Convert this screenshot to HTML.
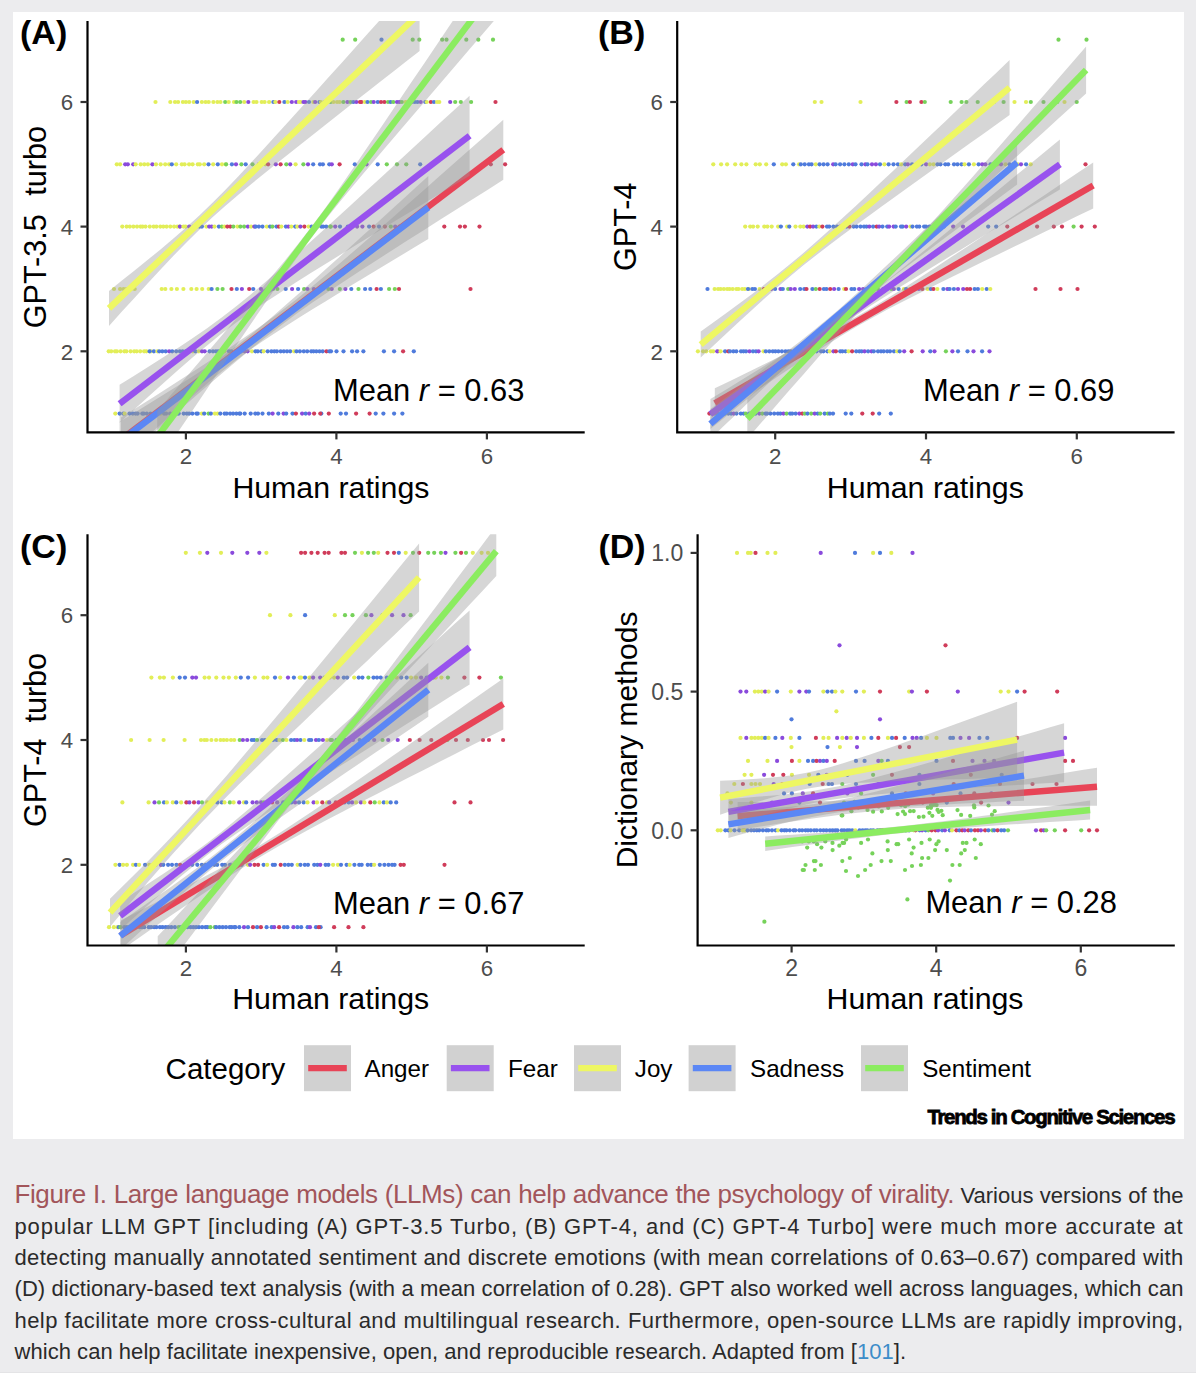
<!DOCTYPE html>
<html><head><meta charset="utf-8"><title>Figure I</title>
<style>
html,body{margin:0;padding:0;}
body{width:1196px;height:1378px;background:#ECECEE;position:relative;overflow:hidden;font-family:"Liberation Sans", Arial, Helvetica, sans-serif;}
#fig{position:absolute;left:13px;top:12px;width:1171px;height:1127px;background:#fff;}
#btm{position:absolute;left:0;top:1372px;width:1196px;height:6px;background:#fff;border-top:0.5px solid #E4E4E6;}
svg{position:absolute;left:0;top:0;}
.tk{font-size:23px;fill:#4D4D4D;}
.ti{font-size:30.6px;fill:#000;white-space:pre;}
.ti.d{font-size:30.0px;}
.tx{font-size:30.3px;fill:#000;}
.lb{font-size:34px;font-weight:bold;fill:#000;}
.mr{font-size:30.9px;fill:#000;}
.lt{font-size:29.5px;fill:#000;}
.le{font-size:24.2px;fill:#000;}
.tcs{font-size:20.5px;font-weight:bold;fill:#000;stroke:#000;stroke-width:0.8px;letter-spacing:-1.36px;}
#cap{position:absolute;left:14.5px;top:0;width:1169px;color:#2A2A2A;}
.ln{position:absolute;left:0;width:1169px;white-space:nowrap;text-align:justify;text-align-last:justify;font-size:22px;line-height:31.4px;}
.ln.last{text-align-last:left;}
.ttl{color:#A2555A;font-size:26px;letter-spacing:-0.4px;}
.ref{color:#3D8DC9;}
</style></head><body>
<div id="fig"></div>
<div id="btm"></div>
<svg width="1196" height="1378" viewBox="0 0 1196 1378" font-family='Liberation Sans, Arial, sans-serif'>
<clipPath id="clipA"><rect x="87.5" y="21.1" width="497.2" height="411.3"/></clipPath>
<g clip-path="url(#clipA)">
<circle cx="342.7" cy="39.7" r="2.10" fill="#76D25A"/>
<circle cx="355.2" cy="39.7" r="2.10" fill="#76D25A"/>
<circle cx="381.5" cy="39.7" r="2.10" fill="#4F7BDC"/>
<circle cx="412.7" cy="39.7" r="2.10" fill="#76D25A"/>
<circle cx="419.3" cy="39.7" r="2.10" fill="#76D25A"/>
<circle cx="442.2" cy="39.7" r="2.10" fill="#76D25A"/>
<circle cx="446.5" cy="39.7" r="2.10" fill="#76D25A"/>
<circle cx="466.3" cy="39.7" r="2.10" fill="#76D25A"/>
<circle cx="478.3" cy="39.7" r="2.10" fill="#76D25A"/>
<circle cx="493.0" cy="39.7" r="2.10" fill="#76D25A"/>
<circle cx="155.5" cy="102.0" r="2.10" fill="#E2EE58"/>
<circle cx="170.3" cy="102.0" r="2.10" fill="#E2EE58"/>
<circle cx="175.0" cy="102.0" r="2.10" fill="#E2EE58"/>
<circle cx="178.1" cy="102.0" r="2.10" fill="#E2EE58"/>
<circle cx="182.9" cy="102.0" r="2.10" fill="#E2EE58"/>
<circle cx="185.9" cy="102.0" r="2.10" fill="#E2EE58"/>
<circle cx="189.2" cy="102.0" r="2.10" fill="#E2EE58"/>
<circle cx="193.7" cy="102.0" r="2.10" fill="#E2EE58"/>
<circle cx="197.1" cy="102.0" r="2.10" fill="#4F7BDC"/>
<circle cx="201.9" cy="102.0" r="2.10" fill="#E2EE58"/>
<circle cx="205.6" cy="102.0" r="2.10" fill="#E2EE58"/>
<circle cx="208.7" cy="102.0" r="2.10" fill="#E2EE58"/>
<circle cx="213.4" cy="102.0" r="2.10" fill="#E2EE58"/>
<circle cx="217.4" cy="102.0" r="2.10" fill="#E2EE58"/>
<circle cx="220.5" cy="102.0" r="2.10" fill="#E2EE58"/>
<circle cx="225.2" cy="102.0" r="2.10" fill="#76D25A"/>
<circle cx="228.7" cy="102.0" r="2.10" fill="#E2EE58"/>
<circle cx="234.0" cy="102.0" r="2.10" fill="#E2EE58"/>
<circle cx="236.5" cy="102.0" r="2.10" fill="#76D25A"/>
<circle cx="240.2" cy="102.0" r="2.10" fill="#76D25A"/>
<circle cx="244.2" cy="102.0" r="2.10" fill="#E2EE58"/>
<circle cx="248.3" cy="102.0" r="2.10" fill="#8A4ADC"/>
<circle cx="253.6" cy="102.0" r="2.10" fill="#E2EE58"/>
<circle cx="256.5" cy="102.0" r="2.10" fill="#E2EE58"/>
<circle cx="261.7" cy="102.0" r="2.10" fill="#E2EE58"/>
<circle cx="264.6" cy="102.0" r="2.10" fill="#E2EE58"/>
<circle cx="269.1" cy="102.0" r="2.10" fill="#E2EE58"/>
<circle cx="273.4" cy="102.0" r="2.10" fill="#4F7BDC"/>
<circle cx="275.3" cy="102.0" r="2.10" fill="#E2EE58"/>
<circle cx="279.3" cy="102.0" r="2.10" fill="#D03C5A"/>
<circle cx="284.4" cy="102.0" r="2.10" fill="#4F7BDC"/>
<circle cx="287.7" cy="102.0" r="2.10" fill="#E2EE58"/>
<circle cx="291.8" cy="102.0" r="2.10" fill="#8A4ADC"/>
<circle cx="296.2" cy="102.0" r="2.10" fill="#8A4ADC"/>
<circle cx="299.0" cy="102.0" r="2.10" fill="#E2EE58"/>
<circle cx="300.8" cy="102.0" r="2.10" fill="#E2EE58"/>
<circle cx="303.5" cy="102.0" r="2.10" fill="#8A4ADC"/>
<circle cx="305.4" cy="102.0" r="2.10" fill="#8A4ADC"/>
<circle cx="309.0" cy="102.0" r="2.10" fill="#4F7BDC"/>
<circle cx="313.4" cy="102.0" r="2.10" fill="#E2EE58"/>
<circle cx="315.2" cy="102.0" r="2.10" fill="#8A4ADC"/>
<circle cx="319.4" cy="102.0" r="2.10" fill="#4F7BDC"/>
<circle cx="320.9" cy="102.0" r="2.10" fill="#E2EE58"/>
<circle cx="324.6" cy="102.0" r="2.10" fill="#4F7BDC"/>
<circle cx="327.3" cy="102.0" r="2.10" fill="#4F7BDC"/>
<circle cx="330.6" cy="102.0" r="2.10" fill="#76D25A"/>
<circle cx="333.5" cy="102.0" r="2.10" fill="#E2EE58"/>
<circle cx="337.1" cy="102.0" r="2.10" fill="#E2EE58"/>
<circle cx="339.7" cy="102.0" r="2.10" fill="#E2EE58"/>
<circle cx="343.4" cy="102.0" r="2.10" fill="#76D25A"/>
<circle cx="347.4" cy="102.0" r="2.10" fill="#8A4ADC"/>
<circle cx="350.5" cy="102.0" r="2.10" fill="#76D25A"/>
<circle cx="353.3" cy="102.0" r="2.10" fill="#4F7BDC"/>
<circle cx="356.3" cy="102.0" r="2.10" fill="#8A4ADC"/>
<circle cx="360.0" cy="102.0" r="2.10" fill="#D03C5A"/>
<circle cx="361.4" cy="102.0" r="2.10" fill="#D03C5A"/>
<circle cx="364.8" cy="102.0" r="2.10" fill="#E2EE58"/>
<circle cx="367.5" cy="102.0" r="2.10" fill="#4F7BDC"/>
<circle cx="371.0" cy="102.0" r="2.10" fill="#76D25A"/>
<circle cx="373.7" cy="102.0" r="2.10" fill="#8A4ADC"/>
<circle cx="377.8" cy="102.0" r="2.10" fill="#4F7BDC"/>
<circle cx="381.0" cy="102.0" r="2.10" fill="#D03C5A"/>
<circle cx="384.4" cy="102.0" r="2.10" fill="#D03C5A"/>
<circle cx="388.0" cy="102.0" r="2.10" fill="#76D25A"/>
<circle cx="390.6" cy="102.0" r="2.10" fill="#4F7BDC"/>
<circle cx="393.3" cy="102.0" r="2.10" fill="#76D25A"/>
<circle cx="397.0" cy="102.0" r="2.10" fill="#8A4ADC"/>
<circle cx="399.4" cy="102.0" r="2.10" fill="#8A4ADC"/>
<circle cx="401.9" cy="102.0" r="2.10" fill="#76D25A"/>
<circle cx="405.6" cy="102.0" r="2.10" fill="#E2EE58"/>
<circle cx="408.1" cy="102.0" r="2.10" fill="#E2EE58"/>
<circle cx="411.9" cy="102.0" r="2.10" fill="#8A4ADC"/>
<circle cx="414.8" cy="102.0" r="2.10" fill="#4F7BDC"/>
<circle cx="417.5" cy="102.0" r="2.10" fill="#4F7BDC"/>
<circle cx="420.7" cy="102.0" r="2.10" fill="#8A4ADC"/>
<circle cx="425.3" cy="102.0" r="2.10" fill="#4F7BDC"/>
<circle cx="426.7" cy="102.0" r="2.10" fill="#E2EE58"/>
<circle cx="430.9" cy="102.0" r="2.10" fill="#D03C5A"/>
<circle cx="434.0" cy="102.0" r="2.10" fill="#4F7BDC"/>
<circle cx="437.1" cy="102.0" r="2.10" fill="#E2EE58"/>
<circle cx="439.3" cy="102.0" r="2.10" fill="#E2EE58"/>
<circle cx="450.2" cy="102.0" r="2.10" fill="#8A4ADC"/>
<circle cx="455.2" cy="102.0" r="2.10" fill="#76D25A"/>
<circle cx="460.8" cy="102.0" r="2.10" fill="#76D25A"/>
<circle cx="471.1" cy="102.0" r="2.10" fill="#76D25A"/>
<circle cx="495.5" cy="102.0" r="2.10" fill="#D03C5A"/>
<circle cx="116.8" cy="164.3" r="2.10" fill="#E2EE58"/>
<circle cx="120.1" cy="164.3" r="2.10" fill="#E2EE58"/>
<circle cx="125.2" cy="164.3" r="2.10" fill="#8A4ADC"/>
<circle cx="127.8" cy="164.3" r="2.10" fill="#8A4ADC"/>
<circle cx="133.2" cy="164.3" r="2.10" fill="#8A4ADC"/>
<circle cx="135.7" cy="164.3" r="2.10" fill="#E2EE58"/>
<circle cx="140.7" cy="164.3" r="2.10" fill="#E2EE58"/>
<circle cx="144.3" cy="164.3" r="2.10" fill="#E2EE58"/>
<circle cx="147.9" cy="164.3" r="2.10" fill="#E2EE58"/>
<circle cx="152.4" cy="164.3" r="2.10" fill="#8A4ADC"/>
<circle cx="156.0" cy="164.3" r="2.10" fill="#E2EE58"/>
<circle cx="160.7" cy="164.3" r="2.10" fill="#E2EE58"/>
<circle cx="165.2" cy="164.3" r="2.10" fill="#E2EE58"/>
<circle cx="169.1" cy="164.3" r="2.10" fill="#E2EE58"/>
<circle cx="171.8" cy="164.3" r="2.10" fill="#4F7BDC"/>
<circle cx="176.2" cy="164.3" r="2.10" fill="#E2EE58"/>
<circle cx="181.8" cy="164.3" r="2.10" fill="#E2EE58"/>
<circle cx="184.6" cy="164.3" r="2.10" fill="#E2EE58"/>
<circle cx="189.1" cy="164.3" r="2.10" fill="#E2EE58"/>
<circle cx="192.6" cy="164.3" r="2.10" fill="#E2EE58"/>
<circle cx="197.8" cy="164.3" r="2.10" fill="#E2EE58"/>
<circle cx="199.8" cy="164.3" r="2.10" fill="#E2EE58"/>
<circle cx="204.2" cy="164.3" r="2.10" fill="#E2EE58"/>
<circle cx="208.5" cy="164.3" r="2.10" fill="#4F7BDC"/>
<circle cx="213.2" cy="164.3" r="2.10" fill="#E2EE58"/>
<circle cx="217.8" cy="164.3" r="2.10" fill="#4F7BDC"/>
<circle cx="222.0" cy="164.3" r="2.10" fill="#E2EE58"/>
<circle cx="225.7" cy="164.3" r="2.10" fill="#E2EE58"/>
<circle cx="226.1" cy="164.3" r="2.10" fill="#76D25A"/>
<circle cx="231.9" cy="164.3" r="2.10" fill="#4F7BDC"/>
<circle cx="236.0" cy="164.3" r="2.10" fill="#8A4ADC"/>
<circle cx="241.4" cy="164.3" r="2.10" fill="#76D25A"/>
<circle cx="245.7" cy="164.3" r="2.10" fill="#4F7BDC"/>
<circle cx="252.5" cy="164.3" r="2.10" fill="#76D25A"/>
<circle cx="258.9" cy="164.3" r="2.10" fill="#8A4ADC"/>
<circle cx="265.3" cy="164.3" r="2.10" fill="#E2EE58"/>
<circle cx="268.1" cy="164.3" r="2.10" fill="#D03C5A"/>
<circle cx="275.8" cy="164.3" r="2.10" fill="#8A4ADC"/>
<circle cx="280.6" cy="164.3" r="2.10" fill="#D03C5A"/>
<circle cx="286.3" cy="164.3" r="2.10" fill="#76D25A"/>
<circle cx="290.2" cy="164.3" r="2.10" fill="#8A4ADC"/>
<circle cx="295.6" cy="164.3" r="2.10" fill="#E2EE58"/>
<circle cx="303.4" cy="164.3" r="2.10" fill="#76D25A"/>
<circle cx="308.0" cy="164.3" r="2.10" fill="#8A4ADC"/>
<circle cx="313.2" cy="164.3" r="2.10" fill="#4F7BDC"/>
<circle cx="320.0" cy="164.3" r="2.10" fill="#4F7BDC"/>
<circle cx="322.9" cy="164.3" r="2.10" fill="#4F7BDC"/>
<circle cx="329.3" cy="164.3" r="2.10" fill="#4F7BDC"/>
<circle cx="331.8" cy="164.3" r="2.10" fill="#8A4ADC"/>
<circle cx="339.6" cy="164.3" r="2.10" fill="#D03C5A"/>
<circle cx="354.8" cy="164.3" r="2.10" fill="#4F7BDC"/>
<circle cx="366.5" cy="164.3" r="2.10" fill="#8A4ADC"/>
<circle cx="377.7" cy="164.3" r="2.10" fill="#4F7BDC"/>
<circle cx="386.8" cy="164.3" r="2.10" fill="#76D25A"/>
<circle cx="397.0" cy="164.3" r="2.10" fill="#76D25A"/>
<circle cx="406.3" cy="164.3" r="2.10" fill="#76D25A"/>
<circle cx="420.2" cy="164.3" r="2.10" fill="#4F7BDC"/>
<circle cx="490.8" cy="164.3" r="2.10" fill="#D03C5A"/>
<circle cx="505.1" cy="164.3" r="2.10" fill="#D03C5A"/>
<circle cx="122.3" cy="226.6" r="2.10" fill="#E2EE58"/>
<circle cx="126.6" cy="226.6" r="2.10" fill="#E2EE58"/>
<circle cx="129.8" cy="226.6" r="2.10" fill="#E2EE58"/>
<circle cx="133.4" cy="226.6" r="2.10" fill="#E2EE58"/>
<circle cx="137.0" cy="226.6" r="2.10" fill="#E2EE58"/>
<circle cx="140.5" cy="226.6" r="2.10" fill="#E2EE58"/>
<circle cx="142.6" cy="226.6" r="2.10" fill="#E2EE58"/>
<circle cx="145.5" cy="226.6" r="2.10" fill="#E2EE58"/>
<circle cx="149.8" cy="226.6" r="2.10" fill="#E2EE58"/>
<circle cx="153.7" cy="226.6" r="2.10" fill="#E2EE58"/>
<circle cx="156.4" cy="226.6" r="2.10" fill="#E2EE58"/>
<circle cx="160.3" cy="226.6" r="2.10" fill="#E2EE58"/>
<circle cx="163.3" cy="226.6" r="2.10" fill="#E2EE58"/>
<circle cx="166.6" cy="226.6" r="2.10" fill="#E2EE58"/>
<circle cx="170.3" cy="226.6" r="2.10" fill="#E2EE58"/>
<circle cx="174.1" cy="226.6" r="2.10" fill="#E2EE58"/>
<circle cx="177.3" cy="226.6" r="2.10" fill="#E2EE58"/>
<circle cx="179.8" cy="226.6" r="2.10" fill="#E2EE58"/>
<circle cx="179.9" cy="226.6" r="2.10" fill="#8A4ADC"/>
<circle cx="183.5" cy="226.6" r="2.10" fill="#E2EE58"/>
<circle cx="185.6" cy="226.6" r="2.10" fill="#E2EE58"/>
<circle cx="189.2" cy="226.6" r="2.10" fill="#8A4ADC"/>
<circle cx="193.5" cy="226.6" r="2.10" fill="#4F7BDC"/>
<circle cx="196.8" cy="226.6" r="2.10" fill="#E2EE58"/>
<circle cx="199.5" cy="226.6" r="2.10" fill="#4F7BDC"/>
<circle cx="201.9" cy="226.6" r="2.10" fill="#4F7BDC"/>
<circle cx="206.4" cy="226.6" r="2.10" fill="#E2EE58"/>
<circle cx="209.2" cy="226.6" r="2.10" fill="#8A4ADC"/>
<circle cx="211.7" cy="226.6" r="2.10" fill="#8A4ADC"/>
<circle cx="214.5" cy="226.6" r="2.10" fill="#E2EE58"/>
<circle cx="218.9" cy="226.6" r="2.10" fill="#4F7BDC"/>
<circle cx="221.9" cy="226.6" r="2.10" fill="#76D25A"/>
<circle cx="224.5" cy="226.6" r="2.10" fill="#E2EE58"/>
<circle cx="227.3" cy="226.6" r="2.10" fill="#D03C5A"/>
<circle cx="230.3" cy="226.6" r="2.10" fill="#D03C5A"/>
<circle cx="233.3" cy="226.6" r="2.10" fill="#76D25A"/>
<circle cx="237.4" cy="226.6" r="2.10" fill="#E2EE58"/>
<circle cx="240.4" cy="226.6" r="2.10" fill="#76D25A"/>
<circle cx="244.1" cy="226.6" r="2.10" fill="#76D25A"/>
<circle cx="247.9" cy="226.6" r="2.10" fill="#8A4ADC"/>
<circle cx="251.1" cy="226.6" r="2.10" fill="#E2EE58"/>
<circle cx="254.3" cy="226.6" r="2.10" fill="#8A4ADC"/>
<circle cx="255.8" cy="226.6" r="2.10" fill="#4F7BDC"/>
<circle cx="258.9" cy="226.6" r="2.10" fill="#4F7BDC"/>
<circle cx="262.5" cy="226.6" r="2.10" fill="#4F7BDC"/>
<circle cx="266.8" cy="226.6" r="2.10" fill="#E2EE58"/>
<circle cx="270.0" cy="226.6" r="2.10" fill="#4F7BDC"/>
<circle cx="272.4" cy="226.6" r="2.10" fill="#76D25A"/>
<circle cx="276.5" cy="226.6" r="2.10" fill="#4F7BDC"/>
<circle cx="278.9" cy="226.6" r="2.10" fill="#D03C5A"/>
<circle cx="281.3" cy="226.6" r="2.10" fill="#E2EE58"/>
<circle cx="285.9" cy="226.6" r="2.10" fill="#4F7BDC"/>
<circle cx="288.4" cy="226.6" r="2.10" fill="#8A4ADC"/>
<circle cx="291.3" cy="226.6" r="2.10" fill="#E2EE58"/>
<circle cx="295.2" cy="226.6" r="2.10" fill="#4F7BDC"/>
<circle cx="297.3" cy="226.6" r="2.10" fill="#E2EE58"/>
<circle cx="300.4" cy="226.6" r="2.10" fill="#8A4ADC"/>
<circle cx="304.4" cy="226.6" r="2.10" fill="#D03C5A"/>
<circle cx="308.6" cy="226.6" r="2.10" fill="#E2EE58"/>
<circle cx="311.7" cy="226.6" r="2.10" fill="#4F7BDC"/>
<circle cx="314.3" cy="226.6" r="2.10" fill="#E2EE58"/>
<circle cx="317.3" cy="226.6" r="2.10" fill="#E2EE58"/>
<circle cx="321.3" cy="226.6" r="2.10" fill="#4F7BDC"/>
<circle cx="323.2" cy="226.6" r="2.10" fill="#4F7BDC"/>
<circle cx="326.2" cy="226.6" r="2.10" fill="#4F7BDC"/>
<circle cx="330.2" cy="226.6" r="2.10" fill="#76D25A"/>
<circle cx="330.8" cy="226.6" r="2.10" fill="#76D25A"/>
<circle cx="335.2" cy="226.6" r="2.10" fill="#8A4ADC"/>
<circle cx="340.0" cy="226.6" r="2.10" fill="#4F7BDC"/>
<circle cx="347.8" cy="226.6" r="2.10" fill="#4F7BDC"/>
<circle cx="350.0" cy="226.6" r="2.10" fill="#4F7BDC"/>
<circle cx="357.1" cy="226.6" r="2.10" fill="#8A4ADC"/>
<circle cx="362.4" cy="226.6" r="2.10" fill="#8A4ADC"/>
<circle cx="369.1" cy="226.6" r="2.10" fill="#4F7BDC"/>
<circle cx="373.6" cy="226.6" r="2.10" fill="#D03C5A"/>
<circle cx="379.0" cy="226.6" r="2.10" fill="#4F7BDC"/>
<circle cx="384.9" cy="226.6" r="2.10" fill="#D03C5A"/>
<circle cx="390.8" cy="226.6" r="2.10" fill="#76D25A"/>
<circle cx="395.2" cy="226.6" r="2.10" fill="#8A4ADC"/>
<circle cx="399.5" cy="226.6" r="2.10" fill="#8A4ADC"/>
<circle cx="444.3" cy="226.6" r="2.10" fill="#D03C5A"/>
<circle cx="460.0" cy="226.6" r="2.10" fill="#D03C5A"/>
<circle cx="464.9" cy="226.6" r="2.10" fill="#D03C5A"/>
<circle cx="479.5" cy="226.6" r="2.10" fill="#D03C5A"/>
<circle cx="114.0" cy="289.0" r="2.10" fill="#E2EE58"/>
<circle cx="120.1" cy="289.0" r="2.10" fill="#E2EE58"/>
<circle cx="123.6" cy="289.0" r="2.10" fill="#E2EE58"/>
<circle cx="126.5" cy="289.0" r="2.10" fill="#E2EE58"/>
<circle cx="130.9" cy="289.0" r="2.10" fill="#E2EE58"/>
<circle cx="134.7" cy="289.0" r="2.10" fill="#E2EE58"/>
<circle cx="161.7" cy="289.0" r="2.10" fill="#E2EE58"/>
<circle cx="165.3" cy="289.0" r="2.10" fill="#E2EE58"/>
<circle cx="171.4" cy="289.0" r="2.10" fill="#E2EE58"/>
<circle cx="176.9" cy="289.0" r="2.10" fill="#E2EE58"/>
<circle cx="183.4" cy="289.0" r="2.10" fill="#E2EE58"/>
<circle cx="191.3" cy="289.0" r="2.10" fill="#E2EE58"/>
<circle cx="196.6" cy="289.0" r="2.10" fill="#E2EE58"/>
<circle cx="202.2" cy="289.0" r="2.10" fill="#E2EE58"/>
<circle cx="208.7" cy="289.0" r="2.10" fill="#E2EE58"/>
<circle cx="211.6" cy="289.0" r="2.10" fill="#4F7BDC"/>
<circle cx="217.4" cy="289.0" r="2.10" fill="#76D25A"/>
<circle cx="222.6" cy="289.0" r="2.10" fill="#76D25A"/>
<circle cx="231.5" cy="289.0" r="2.10" fill="#D03C5A"/>
<circle cx="236.8" cy="289.0" r="2.10" fill="#4F7BDC"/>
<circle cx="241.9" cy="289.0" r="2.10" fill="#8A4ADC"/>
<circle cx="249.2" cy="289.0" r="2.10" fill="#D03C5A"/>
<circle cx="253.2" cy="289.0" r="2.10" fill="#4F7BDC"/>
<circle cx="261.0" cy="289.0" r="2.10" fill="#8A4ADC"/>
<circle cx="267.8" cy="289.0" r="2.10" fill="#76D25A"/>
<circle cx="273.1" cy="289.0" r="2.10" fill="#76D25A"/>
<circle cx="277.4" cy="289.0" r="2.10" fill="#76D25A"/>
<circle cx="285.7" cy="289.0" r="2.10" fill="#4F7BDC"/>
<circle cx="292.1" cy="289.0" r="2.10" fill="#8A4ADC"/>
<circle cx="298.1" cy="289.0" r="2.10" fill="#4F7BDC"/>
<circle cx="304.1" cy="289.0" r="2.10" fill="#76D25A"/>
<circle cx="307.5" cy="289.0" r="2.10" fill="#8A4ADC"/>
<circle cx="313.8" cy="289.0" r="2.10" fill="#8A4ADC"/>
<circle cx="322.8" cy="289.0" r="2.10" fill="#E2EE58"/>
<circle cx="328.4" cy="289.0" r="2.10" fill="#76D25A"/>
<circle cx="331.7" cy="289.0" r="2.10" fill="#8A4ADC"/>
<circle cx="339.8" cy="289.0" r="2.10" fill="#76D25A"/>
<circle cx="345.4" cy="289.0" r="2.10" fill="#8A4ADC"/>
<circle cx="351.3" cy="289.0" r="2.10" fill="#4F7BDC"/>
<circle cx="358.5" cy="289.0" r="2.10" fill="#76D25A"/>
<circle cx="365.1" cy="289.0" r="2.10" fill="#4F7BDC"/>
<circle cx="370.3" cy="289.0" r="2.10" fill="#4F7BDC"/>
<circle cx="376.6" cy="289.0" r="2.10" fill="#D03C5A"/>
<circle cx="380.9" cy="289.0" r="2.10" fill="#4F7BDC"/>
<circle cx="389.1" cy="289.0" r="2.10" fill="#76D25A"/>
<circle cx="394.8" cy="289.0" r="2.10" fill="#76D25A"/>
<circle cx="399.0" cy="289.0" r="2.10" fill="#D03C5A"/>
<circle cx="470.5" cy="289.0" r="2.10" fill="#D03C5A"/>
<circle cx="108.7" cy="351.3" r="2.10" fill="#E2EE58"/>
<circle cx="111.2" cy="351.3" r="2.10" fill="#E2EE58"/>
<circle cx="115.0" cy="351.3" r="2.10" fill="#E2EE58"/>
<circle cx="116.9" cy="351.3" r="2.10" fill="#E2EE58"/>
<circle cx="120.6" cy="351.3" r="2.10" fill="#E2EE58"/>
<circle cx="124.4" cy="351.3" r="2.10" fill="#E2EE58"/>
<circle cx="126.4" cy="351.3" r="2.10" fill="#E2EE58"/>
<circle cx="130.6" cy="351.3" r="2.10" fill="#E2EE58"/>
<circle cx="134.2" cy="351.3" r="2.10" fill="#E2EE58"/>
<circle cx="136.7" cy="351.3" r="2.10" fill="#E2EE58"/>
<circle cx="140.2" cy="351.3" r="2.10" fill="#E2EE58"/>
<circle cx="144.1" cy="351.3" r="2.10" fill="#E2EE58"/>
<circle cx="146.4" cy="351.3" r="2.10" fill="#E2EE58"/>
<circle cx="150.8" cy="351.3" r="2.10" fill="#E2EE58"/>
<circle cx="149.6" cy="351.3" r="2.10" fill="#4F7BDC"/>
<circle cx="153.9" cy="351.3" r="2.10" fill="#4F7BDC"/>
<circle cx="157.5" cy="351.3" r="2.10" fill="#E2EE58"/>
<circle cx="159.2" cy="351.3" r="2.10" fill="#4F7BDC"/>
<circle cx="162.3" cy="351.3" r="2.10" fill="#4F7BDC"/>
<circle cx="165.7" cy="351.3" r="2.10" fill="#4F7BDC"/>
<circle cx="169.2" cy="351.3" r="2.10" fill="#8A4ADC"/>
<circle cx="172.2" cy="351.3" r="2.10" fill="#4F7BDC"/>
<circle cx="176.2" cy="351.3" r="2.10" fill="#4F7BDC"/>
<circle cx="179.9" cy="351.3" r="2.10" fill="#4F7BDC"/>
<circle cx="182.7" cy="351.3" r="2.10" fill="#4F7BDC"/>
<circle cx="185.8" cy="351.3" r="2.10" fill="#4F7BDC"/>
<circle cx="188.3" cy="351.3" r="2.10" fill="#4F7BDC"/>
<circle cx="192.9" cy="351.3" r="2.10" fill="#E2EE58"/>
<circle cx="195.4" cy="351.3" r="2.10" fill="#4F7BDC"/>
<circle cx="198.9" cy="351.3" r="2.10" fill="#E2EE58"/>
<circle cx="202.0" cy="351.3" r="2.10" fill="#8A4ADC"/>
<circle cx="204.7" cy="351.3" r="2.10" fill="#8A4ADC"/>
<circle cx="209.6" cy="351.3" r="2.10" fill="#4F7BDC"/>
<circle cx="213.0" cy="351.3" r="2.10" fill="#4F7BDC"/>
<circle cx="215.9" cy="351.3" r="2.10" fill="#4F7BDC"/>
<circle cx="218.2" cy="351.3" r="2.10" fill="#4F7BDC"/>
<circle cx="221.8" cy="351.3" r="2.10" fill="#D03C5A"/>
<circle cx="224.4" cy="351.3" r="2.10" fill="#E2EE58"/>
<circle cx="229.0" cy="351.3" r="2.10" fill="#4F7BDC"/>
<circle cx="231.4" cy="351.3" r="2.10" fill="#4F7BDC"/>
<circle cx="235.7" cy="351.3" r="2.10" fill="#4F7BDC"/>
<circle cx="238.6" cy="351.3" r="2.10" fill="#4F7BDC"/>
<circle cx="241.1" cy="351.3" r="2.10" fill="#4F7BDC"/>
<circle cx="244.8" cy="351.3" r="2.10" fill="#8A4ADC"/>
<circle cx="247.6" cy="351.3" r="2.10" fill="#8A4ADC"/>
<circle cx="252.0" cy="351.3" r="2.10" fill="#E2EE58"/>
<circle cx="255.5" cy="351.3" r="2.10" fill="#4F7BDC"/>
<circle cx="257.8" cy="351.3" r="2.10" fill="#4F7BDC"/>
<circle cx="261.4" cy="351.3" r="2.10" fill="#4F7BDC"/>
<circle cx="263.7" cy="351.3" r="2.10" fill="#E2EE58"/>
<circle cx="267.7" cy="351.3" r="2.10" fill="#4F7BDC"/>
<circle cx="271.4" cy="351.3" r="2.10" fill="#4F7BDC"/>
<circle cx="274.3" cy="351.3" r="2.10" fill="#4F7BDC"/>
<circle cx="276.9" cy="351.3" r="2.10" fill="#4F7BDC"/>
<circle cx="280.7" cy="351.3" r="2.10" fill="#4F7BDC"/>
<circle cx="283.8" cy="351.3" r="2.10" fill="#4F7BDC"/>
<circle cx="287.0" cy="351.3" r="2.10" fill="#4F7BDC"/>
<circle cx="290.2" cy="351.3" r="2.10" fill="#4F7BDC"/>
<circle cx="294.1" cy="351.3" r="2.10" fill="#E2EE58"/>
<circle cx="296.5" cy="351.3" r="2.10" fill="#4F7BDC"/>
<circle cx="299.9" cy="351.3" r="2.10" fill="#4F7BDC"/>
<circle cx="303.8" cy="351.3" r="2.10" fill="#4F7BDC"/>
<circle cx="307.2" cy="351.3" r="2.10" fill="#4F7BDC"/>
<circle cx="311.2" cy="351.3" r="2.10" fill="#4F7BDC"/>
<circle cx="313.5" cy="351.3" r="2.10" fill="#4F7BDC"/>
<circle cx="316.3" cy="351.3" r="2.10" fill="#4F7BDC"/>
<circle cx="319.5" cy="351.3" r="2.10" fill="#4F7BDC"/>
<circle cx="322.7" cy="351.3" r="2.10" fill="#4F7BDC"/>
<circle cx="326.5" cy="351.3" r="2.10" fill="#D03C5A"/>
<circle cx="329.4" cy="351.3" r="2.10" fill="#4F7BDC"/>
<circle cx="331.0" cy="351.3" r="2.10" fill="#4F7BDC"/>
<circle cx="336.5" cy="351.3" r="2.10" fill="#4F7BDC"/>
<circle cx="343.5" cy="351.3" r="2.10" fill="#4F7BDC"/>
<circle cx="352.1" cy="351.3" r="2.10" fill="#4F7BDC"/>
<circle cx="357.1" cy="351.3" r="2.10" fill="#4F7BDC"/>
<circle cx="363.4" cy="351.3" r="2.10" fill="#4F7BDC"/>
<circle cx="383.9" cy="351.3" r="2.10" fill="#4F7BDC"/>
<circle cx="394.1" cy="351.3" r="2.10" fill="#4F7BDC"/>
<circle cx="403.1" cy="351.3" r="2.10" fill="#D03C5A"/>
<circle cx="413.8" cy="351.3" r="2.10" fill="#4F7BDC"/>
<circle cx="115.3" cy="413.6" r="2.10" fill="#E2EE58"/>
<circle cx="119.6" cy="413.6" r="2.10" fill="#4F7BDC"/>
<circle cx="123.3" cy="413.6" r="2.10" fill="#4F7BDC"/>
<circle cx="124.6" cy="413.6" r="2.10" fill="#E2EE58"/>
<circle cx="129.5" cy="413.6" r="2.10" fill="#4F7BDC"/>
<circle cx="132.8" cy="413.6" r="2.10" fill="#4F7BDC"/>
<circle cx="135.6" cy="413.6" r="2.10" fill="#4F7BDC"/>
<circle cx="137.6" cy="413.6" r="2.10" fill="#4F7BDC"/>
<circle cx="142.3" cy="413.6" r="2.10" fill="#4F7BDC"/>
<circle cx="143.8" cy="413.6" r="2.10" fill="#4F7BDC"/>
<circle cx="146.8" cy="413.6" r="2.10" fill="#4F7BDC"/>
<circle cx="150.5" cy="413.6" r="2.10" fill="#4F7BDC"/>
<circle cx="154.4" cy="413.6" r="2.10" fill="#4F7BDC"/>
<circle cx="158.2" cy="413.6" r="2.10" fill="#4F7BDC"/>
<circle cx="160.6" cy="413.6" r="2.10" fill="#E2EE58"/>
<circle cx="164.1" cy="413.6" r="2.10" fill="#4F7BDC"/>
<circle cx="166.1" cy="413.6" r="2.10" fill="#4F7BDC"/>
<circle cx="170.1" cy="413.6" r="2.10" fill="#4F7BDC"/>
<circle cx="173.0" cy="413.6" r="2.10" fill="#4F7BDC"/>
<circle cx="177.0" cy="413.6" r="2.10" fill="#4F7BDC"/>
<circle cx="178.7" cy="413.6" r="2.10" fill="#4F7BDC"/>
<circle cx="183.7" cy="413.6" r="2.10" fill="#4F7BDC"/>
<circle cx="186.8" cy="413.6" r="2.10" fill="#4F7BDC"/>
<circle cx="189.1" cy="413.6" r="2.10" fill="#4F7BDC"/>
<circle cx="192.4" cy="413.6" r="2.10" fill="#4F7BDC"/>
<circle cx="196.4" cy="413.6" r="2.10" fill="#4F7BDC"/>
<circle cx="197.8" cy="413.6" r="2.10" fill="#4F7BDC"/>
<circle cx="201.8" cy="413.6" r="2.10" fill="#E2EE58"/>
<circle cx="204.2" cy="413.6" r="2.10" fill="#4F7BDC"/>
<circle cx="208.5" cy="413.6" r="2.10" fill="#76D25A"/>
<circle cx="210.9" cy="413.6" r="2.10" fill="#4F7BDC"/>
<circle cx="214.9" cy="413.6" r="2.10" fill="#E2EE58"/>
<circle cx="217.5" cy="413.6" r="2.10" fill="#E2EE58"/>
<circle cx="220.3" cy="413.6" r="2.10" fill="#4F7BDC"/>
<circle cx="224.6" cy="413.6" r="2.10" fill="#4F7BDC"/>
<circle cx="226.7" cy="413.6" r="2.10" fill="#4F7BDC"/>
<circle cx="230.1" cy="413.6" r="2.10" fill="#4F7BDC"/>
<circle cx="233.1" cy="413.6" r="2.10" fill="#4F7BDC"/>
<circle cx="236.4" cy="413.6" r="2.10" fill="#4F7BDC"/>
<circle cx="239.3" cy="413.6" r="2.10" fill="#4F7BDC"/>
<circle cx="240.3" cy="413.6" r="2.10" fill="#4F7BDC"/>
<circle cx="244.7" cy="413.6" r="2.10" fill="#4F7BDC"/>
<circle cx="250.7" cy="413.6" r="2.10" fill="#4F7BDC"/>
<circle cx="255.3" cy="413.6" r="2.10" fill="#4F7BDC"/>
<circle cx="258.0" cy="413.6" r="2.10" fill="#4F7BDC"/>
<circle cx="262.5" cy="413.6" r="2.10" fill="#4F7BDC"/>
<circle cx="268.8" cy="413.6" r="2.10" fill="#4F7BDC"/>
<circle cx="272.6" cy="413.6" r="2.10" fill="#8A4ADC"/>
<circle cx="278.3" cy="413.6" r="2.10" fill="#4F7BDC"/>
<circle cx="283.6" cy="413.6" r="2.10" fill="#8A4ADC"/>
<circle cx="286.2" cy="413.6" r="2.10" fill="#4F7BDC"/>
<circle cx="292.5" cy="413.6" r="2.10" fill="#4F7BDC"/>
<circle cx="295.9" cy="413.6" r="2.10" fill="#D03C5A"/>
<circle cx="302.1" cy="413.6" r="2.10" fill="#8A4ADC"/>
<circle cx="305.7" cy="413.6" r="2.10" fill="#4F7BDC"/>
<circle cx="309.2" cy="413.6" r="2.10" fill="#8A4ADC"/>
<circle cx="314.1" cy="413.6" r="2.10" fill="#D03C5A"/>
<circle cx="321.3" cy="413.6" r="2.10" fill="#4F7BDC"/>
<circle cx="320.3" cy="413.6" r="2.10" fill="#D03C5A"/>
<circle cx="328.8" cy="413.6" r="2.10" fill="#D03C5A"/>
<circle cx="340.7" cy="413.6" r="2.10" fill="#4F7BDC"/>
<circle cx="346.0" cy="413.6" r="2.10" fill="#4F7BDC"/>
<circle cx="356.1" cy="413.6" r="2.10" fill="#D03C5A"/>
<circle cx="369.6" cy="413.6" r="2.10" fill="#D03C5A"/>
<circle cx="375.7" cy="413.6" r="2.10" fill="#4F7BDC"/>
<circle cx="383.4" cy="413.6" r="2.10" fill="#4F7BDC"/>
<circle cx="394.1" cy="413.6" r="2.10" fill="#4F7BDC"/>
<circle cx="402.4" cy="413.6" r="2.10" fill="#4F7BDC"/>
<polygon points="121.0,417.6 136.9,407.5 152.9,397.4 168.8,387.2 184.7,377.0 200.6,366.7 216.6,356.3 232.5,345.7 248.4,334.8 264.4,323.6 280.3,311.8 296.2,299.5 312.1,286.6 328.1,273.2 344.0,259.7 359.9,245.9 375.9,232.1 391.8,218.2 407.7,204.2 423.7,190.2 439.6,176.1 455.5,162.1 471.4,148.0 487.4,133.9 503.3,119.8 503.3,179.8 487.4,189.9 471.4,199.9 455.5,210.0 439.6,220.1 423.7,230.2 407.7,240.3 391.8,250.5 375.9,260.7 359.9,271.0 344.0,281.4 328.1,292.0 312.1,302.8 296.2,314.1 280.3,325.9 264.4,338.2 248.4,351.2 232.5,364.5 216.6,378.0 200.6,391.8 184.7,405.6 168.8,419.6 152.9,433.5 136.9,447.6 121.0,461.6" fill="#999999" fill-opacity="0.4"/>
<line x1="121.0" y1="439.6" x2="503.3" y2="149.8" stroke="#E84457" stroke-width="6.4"/>
<polygon points="119.6,384.8 134.2,375.7 148.8,366.6 163.3,357.3 177.9,347.9 192.5,338.2 207.1,328.2 221.7,317.6 236.3,306.3 250.8,294.4 265.4,281.9 280.0,269.2 294.6,256.2 309.2,243.0 323.8,229.8 338.4,216.5 352.9,203.2 367.5,189.8 382.1,176.4 396.7,163.0 411.3,149.5 425.9,136.1 440.4,122.6 455.0,109.2 469.6,95.7 469.6,175.7 455.0,184.6 440.4,193.4 425.9,202.3 411.3,211.2 396.7,220.1 382.1,229.1 367.5,238.0 352.9,247.0 338.4,256.0 323.8,265.0 309.2,274.1 294.6,283.3 280.0,292.7 265.4,302.3 250.8,312.2 236.3,322.6 221.7,333.6 207.1,345.4 192.5,357.6 177.9,370.3 163.3,383.2 148.8,396.3 134.2,409.5 119.6,422.8" fill="#999999" fill-opacity="0.4"/>
<line x1="119.6" y1="403.8" x2="469.6" y2="135.7" stroke="#9852EE" stroke-width="6.4"/>
<polygon points="109.0,290.9 121.9,280.6 134.9,270.2 147.8,259.8 160.8,249.2 173.7,238.3 186.7,227.1 199.6,215.3 212.5,202.8 225.5,189.8 238.4,176.2 251.4,162.3 264.3,148.3 277.2,134.1 290.2,119.8 303.1,105.5 316.1,91.2 329.0,76.8 342.0,62.4 354.9,47.9 367.8,33.5 380.8,19.1 393.7,4.6 406.7,-9.8 419.6,-24.3 419.6,50.9 406.7,61.0 393.7,71.2 380.8,81.3 367.8,91.5 354.9,101.6 342.0,111.8 329.0,122.0 316.1,132.2 303.1,142.4 290.2,152.7 277.2,163.0 264.3,173.4 251.4,184.0 238.4,194.7 225.5,205.7 212.5,217.2 199.6,229.4 186.7,242.2 173.7,255.5 160.8,269.3 147.8,283.2 134.9,297.4 121.9,311.6 109.0,325.9" fill="#999999" fill-opacity="0.4"/>
<line x1="109.0" y1="308.4" x2="419.6" y2="13.3" stroke="#EEF763" stroke-width="6.4"/>
<polygon points="119.6,421.7 132.5,413.9 145.3,406.0 158.2,398.0 171.1,390.0 183.9,381.9 196.8,373.7 209.6,365.1 222.5,356.2 235.4,346.8 248.2,336.8 261.1,326.3 274.0,315.3 286.8,304.1 299.7,292.7 312.5,281.2 325.4,269.6 338.3,258.0 351.1,246.3 364.0,234.6 376.9,222.9 389.7,211.2 402.6,199.4 415.4,187.7 428.3,175.9 428.3,238.9 415.4,246.7 402.6,254.4 389.7,262.2 376.9,270.0 364.0,277.8 351.1,285.6 338.3,293.5 325.4,301.4 312.5,309.3 299.7,317.3 286.8,325.5 274.0,333.8 261.1,342.3 248.2,351.3 235.4,360.8 222.5,371.0 209.6,381.6 196.8,392.6 183.9,403.8 171.1,415.3 158.2,426.8 145.3,438.4 132.5,450.0 119.6,461.7" fill="#999999" fill-opacity="0.4"/>
<line x1="119.6" y1="441.7" x2="428.3" y2="207.4" stroke="#5B87F5" stroke-width="6.4"/>
<polygon points="157.2,410.9 171.3,394.4 185.5,377.9 199.6,361.4 213.7,344.9 227.8,328.4 242.0,311.8 256.1,295.1 270.2,278.2 284.4,261.2 298.5,243.6 312.6,225.2 326.8,205.9 340.9,185.9 355.0,165.4 369.1,144.8 383.3,124.0 397.4,103.1 411.5,82.1 425.7,61.2 439.8,40.2 453.9,19.2 468.0,-1.8 482.2,-22.9 496.3,-43.9 496.3,18.1 482.2,34.6 468.0,51.0 453.9,67.5 439.8,84.0 425.7,100.5 411.5,117.0 397.4,133.5 383.3,150.1 369.1,166.8 355.0,183.6 340.9,200.6 326.8,218.1 312.6,236.2 298.5,255.4 284.4,275.3 270.2,295.7 256.1,316.3 242.0,337.1 227.8,358.0 213.7,378.9 199.6,399.9 185.5,420.9 171.3,441.9 157.2,462.9" fill="#999999" fill-opacity="0.4"/>
<line x1="157.2" y1="436.9" x2="496.3" y2="-12.9" stroke="#8BEC60" stroke-width="6.4"/>
</g>
<clipPath id="clipB"><rect x="677.2" y="21.1" width="497.4" height="411.3"/></clipPath>
<g clip-path="url(#clipB)">
<circle cx="1058.5" cy="39.7" r="2.10" fill="#76D25A"/>
<circle cx="1086.5" cy="39.7" r="2.10" fill="#76D25A"/>
<circle cx="814.8" cy="102.0" r="2.10" fill="#E2EE58"/>
<circle cx="821.5" cy="102.0" r="2.10" fill="#E2EE58"/>
<circle cx="860.5" cy="102.0" r="2.10" fill="#E2EE58"/>
<circle cx="896.4" cy="102.0" r="2.10" fill="#D03C5A"/>
<circle cx="906.6" cy="102.0" r="2.10" fill="#76D25A"/>
<circle cx="909.9" cy="102.0" r="2.10" fill="#D03C5A"/>
<circle cx="921.4" cy="102.0" r="2.10" fill="#D03C5A"/>
<circle cx="924.8" cy="102.0" r="2.10" fill="#76D25A"/>
<circle cx="950.7" cy="102.0" r="2.10" fill="#76D25A"/>
<circle cx="961.6" cy="102.0" r="2.10" fill="#76D25A"/>
<circle cx="966.4" cy="102.0" r="2.10" fill="#76D25A"/>
<circle cx="977.7" cy="102.0" r="2.10" fill="#76D25A"/>
<circle cx="993.9" cy="102.0" r="2.10" fill="#76D25A"/>
<circle cx="1003.6" cy="102.0" r="2.10" fill="#76D25A"/>
<circle cx="1014.5" cy="102.0" r="2.10" fill="#E2EE58"/>
<circle cx="1026.0" cy="102.0" r="2.10" fill="#E2EE58"/>
<circle cx="1030.8" cy="102.0" r="2.10" fill="#76D25A"/>
<circle cx="1043.5" cy="102.0" r="2.10" fill="#76D25A"/>
<circle cx="1057.3" cy="102.0" r="2.10" fill="#76D25A"/>
<circle cx="1064.5" cy="102.0" r="2.10" fill="#E2EE58"/>
<circle cx="1076.7" cy="102.0" r="2.10" fill="#76D25A"/>
<circle cx="713.3" cy="164.3" r="2.10" fill="#E2EE58"/>
<circle cx="721.1" cy="164.3" r="2.10" fill="#E2EE58"/>
<circle cx="727.1" cy="164.3" r="2.10" fill="#E2EE58"/>
<circle cx="735.2" cy="164.3" r="2.10" fill="#E2EE58"/>
<circle cx="741.4" cy="164.3" r="2.10" fill="#E2EE58"/>
<circle cx="746.4" cy="164.3" r="2.10" fill="#E2EE58"/>
<circle cx="755.7" cy="164.3" r="2.10" fill="#E2EE58"/>
<circle cx="759.8" cy="164.3" r="2.10" fill="#E2EE58"/>
<circle cx="766.2" cy="164.3" r="2.10" fill="#E2EE58"/>
<circle cx="773.8" cy="164.3" r="2.10" fill="#4F7BDC"/>
<circle cx="782.2" cy="164.3" r="2.10" fill="#E2EE58"/>
<circle cx="785.9" cy="164.3" r="2.10" fill="#E2EE58"/>
<circle cx="793.3" cy="164.3" r="2.10" fill="#4F7BDC"/>
<circle cx="799.0" cy="164.3" r="2.10" fill="#E2EE58"/>
<circle cx="800.8" cy="164.3" r="2.10" fill="#4F7BDC"/>
<circle cx="804.7" cy="164.3" r="2.10" fill="#4F7BDC"/>
<circle cx="808.9" cy="164.3" r="2.10" fill="#4F7BDC"/>
<circle cx="811.6" cy="164.3" r="2.10" fill="#4F7BDC"/>
<circle cx="815.8" cy="164.3" r="2.10" fill="#E2EE58"/>
<circle cx="819.6" cy="164.3" r="2.10" fill="#4F7BDC"/>
<circle cx="823.6" cy="164.3" r="2.10" fill="#4F7BDC"/>
<circle cx="827.6" cy="164.3" r="2.10" fill="#4F7BDC"/>
<circle cx="833.2" cy="164.3" r="2.10" fill="#8A4ADC"/>
<circle cx="835.6" cy="164.3" r="2.10" fill="#4F7BDC"/>
<circle cx="840.1" cy="164.3" r="2.10" fill="#4F7BDC"/>
<circle cx="844.4" cy="164.3" r="2.10" fill="#4F7BDC"/>
<circle cx="848.8" cy="164.3" r="2.10" fill="#4F7BDC"/>
<circle cx="852.8" cy="164.3" r="2.10" fill="#8A4ADC"/>
<circle cx="855.5" cy="164.3" r="2.10" fill="#4F7BDC"/>
<circle cx="861.5" cy="164.3" r="2.10" fill="#4F7BDC"/>
<circle cx="865.4" cy="164.3" r="2.10" fill="#8A4ADC"/>
<circle cx="867.5" cy="164.3" r="2.10" fill="#4F7BDC"/>
<circle cx="872.0" cy="164.3" r="2.10" fill="#8A4ADC"/>
<circle cx="875.9" cy="164.3" r="2.10" fill="#8A4ADC"/>
<circle cx="880.0" cy="164.3" r="2.10" fill="#4F7BDC"/>
<circle cx="884.4" cy="164.3" r="2.10" fill="#E2EE58"/>
<circle cx="888.6" cy="164.3" r="2.10" fill="#4F7BDC"/>
<circle cx="893.5" cy="164.3" r="2.10" fill="#4F7BDC"/>
<circle cx="897.9" cy="164.3" r="2.10" fill="#4F7BDC"/>
<circle cx="901.2" cy="164.3" r="2.10" fill="#E2EE58"/>
<circle cx="905.2" cy="164.3" r="2.10" fill="#4F7BDC"/>
<circle cx="907.8" cy="164.3" r="2.10" fill="#8A4ADC"/>
<circle cx="912.1" cy="164.3" r="2.10" fill="#4F7BDC"/>
<circle cx="918.2" cy="164.3" r="2.10" fill="#8A4ADC"/>
<circle cx="921.3" cy="164.3" r="2.10" fill="#4F7BDC"/>
<circle cx="926.1" cy="164.3" r="2.10" fill="#8A4ADC"/>
<circle cx="929.9" cy="164.3" r="2.10" fill="#E2EE58"/>
<circle cx="933.6" cy="164.3" r="2.10" fill="#E2EE58"/>
<circle cx="937.5" cy="164.3" r="2.10" fill="#4F7BDC"/>
<circle cx="940.5" cy="164.3" r="2.10" fill="#4F7BDC"/>
<circle cx="945.3" cy="164.3" r="2.10" fill="#4F7BDC"/>
<circle cx="948.2" cy="164.3" r="2.10" fill="#4F7BDC"/>
<circle cx="954.0" cy="164.3" r="2.10" fill="#4F7BDC"/>
<circle cx="957.5" cy="164.3" r="2.10" fill="#4F7BDC"/>
<circle cx="961.5" cy="164.3" r="2.10" fill="#4F7BDC"/>
<circle cx="964.6" cy="164.3" r="2.10" fill="#E2EE58"/>
<circle cx="968.9" cy="164.3" r="2.10" fill="#4F7BDC"/>
<circle cx="973.9" cy="164.3" r="2.10" fill="#E2EE58"/>
<circle cx="978.6" cy="164.3" r="2.10" fill="#4F7BDC"/>
<circle cx="982.2" cy="164.3" r="2.10" fill="#8A4ADC"/>
<circle cx="985.4" cy="164.3" r="2.10" fill="#8A4ADC"/>
<circle cx="990.5" cy="164.3" r="2.10" fill="#4F7BDC"/>
<circle cx="993.4" cy="164.3" r="2.10" fill="#4F7BDC"/>
<circle cx="997.5" cy="164.3" r="2.10" fill="#E2EE58"/>
<circle cx="1001.0" cy="164.3" r="2.10" fill="#8A4ADC"/>
<circle cx="1005.6" cy="164.3" r="2.10" fill="#E2EE58"/>
<circle cx="1009.6" cy="164.3" r="2.10" fill="#4F7BDC"/>
<circle cx="1013.6" cy="164.3" r="2.10" fill="#8A4ADC"/>
<circle cx="1017.8" cy="164.3" r="2.10" fill="#E2EE58"/>
<circle cx="1021.0" cy="164.3" r="2.10" fill="#8A4ADC"/>
<circle cx="1026.1" cy="164.3" r="2.10" fill="#4F7BDC"/>
<circle cx="1030.7" cy="164.3" r="2.10" fill="#E2EE58"/>
<circle cx="1085.5" cy="164.3" r="2.10" fill="#D03C5A"/>
<circle cx="745.2" cy="226.6" r="2.10" fill="#E2EE58"/>
<circle cx="750.2" cy="226.6" r="2.10" fill="#E2EE58"/>
<circle cx="753.1" cy="226.6" r="2.10" fill="#E2EE58"/>
<circle cx="757.7" cy="226.6" r="2.10" fill="#E2EE58"/>
<circle cx="764.3" cy="226.6" r="2.10" fill="#E2EE58"/>
<circle cx="767.4" cy="226.6" r="2.10" fill="#E2EE58"/>
<circle cx="771.7" cy="226.6" r="2.10" fill="#E2EE58"/>
<circle cx="778.1" cy="226.6" r="2.10" fill="#E2EE58"/>
<circle cx="780.9" cy="226.6" r="2.10" fill="#4F7BDC"/>
<circle cx="787.1" cy="226.6" r="2.10" fill="#E2EE58"/>
<circle cx="789.3" cy="226.6" r="2.10" fill="#4F7BDC"/>
<circle cx="795.5" cy="226.6" r="2.10" fill="#E2EE58"/>
<circle cx="800.3" cy="226.6" r="2.10" fill="#E2EE58"/>
<circle cx="803.6" cy="226.6" r="2.10" fill="#E2EE58"/>
<circle cx="807.3" cy="226.6" r="2.10" fill="#8A4ADC"/>
<circle cx="810.1" cy="226.6" r="2.10" fill="#D03C5A"/>
<circle cx="813.1" cy="226.6" r="2.10" fill="#8A4ADC"/>
<circle cx="816.4" cy="226.6" r="2.10" fill="#4F7BDC"/>
<circle cx="819.3" cy="226.6" r="2.10" fill="#E2EE58"/>
<circle cx="822.4" cy="226.6" r="2.10" fill="#D03C5A"/>
<circle cx="827.0" cy="226.6" r="2.10" fill="#4F7BDC"/>
<circle cx="829.2" cy="226.6" r="2.10" fill="#4F7BDC"/>
<circle cx="833.4" cy="226.6" r="2.10" fill="#4F7BDC"/>
<circle cx="837.0" cy="226.6" r="2.10" fill="#4F7BDC"/>
<circle cx="840.2" cy="226.6" r="2.10" fill="#8A4ADC"/>
<circle cx="843.1" cy="226.6" r="2.10" fill="#4F7BDC"/>
<circle cx="846.6" cy="226.6" r="2.10" fill="#4F7BDC"/>
<circle cx="849.4" cy="226.6" r="2.10" fill="#D03C5A"/>
<circle cx="853.6" cy="226.6" r="2.10" fill="#4F7BDC"/>
<circle cx="856.6" cy="226.6" r="2.10" fill="#4F7BDC"/>
<circle cx="860.5" cy="226.6" r="2.10" fill="#4F7BDC"/>
<circle cx="864.0" cy="226.6" r="2.10" fill="#4F7BDC"/>
<circle cx="866.5" cy="226.6" r="2.10" fill="#4F7BDC"/>
<circle cx="869.3" cy="226.6" r="2.10" fill="#8A4ADC"/>
<circle cx="873.1" cy="226.6" r="2.10" fill="#4F7BDC"/>
<circle cx="876.7" cy="226.6" r="2.10" fill="#D03C5A"/>
<circle cx="879.1" cy="226.6" r="2.10" fill="#8A4ADC"/>
<circle cx="882.5" cy="226.6" r="2.10" fill="#4F7BDC"/>
<circle cx="887.2" cy="226.6" r="2.10" fill="#4F7BDC"/>
<circle cx="889.1" cy="226.6" r="2.10" fill="#8A4ADC"/>
<circle cx="893.6" cy="226.6" r="2.10" fill="#8A4ADC"/>
<circle cx="895.7" cy="226.6" r="2.10" fill="#4F7BDC"/>
<circle cx="901.0" cy="226.6" r="2.10" fill="#4F7BDC"/>
<circle cx="902.7" cy="226.6" r="2.10" fill="#4F7BDC"/>
<circle cx="906.2" cy="226.6" r="2.10" fill="#8A4ADC"/>
<circle cx="910.4" cy="226.6" r="2.10" fill="#E2EE58"/>
<circle cx="912.5" cy="226.6" r="2.10" fill="#4F7BDC"/>
<circle cx="916.9" cy="226.6" r="2.10" fill="#4F7BDC"/>
<circle cx="919.3" cy="226.6" r="2.10" fill="#4F7BDC"/>
<circle cx="924.1" cy="226.6" r="2.10" fill="#4F7BDC"/>
<circle cx="926.0" cy="226.6" r="2.10" fill="#4F7BDC"/>
<circle cx="929.4" cy="226.6" r="2.10" fill="#4F7BDC"/>
<circle cx="935.7" cy="226.6" r="2.10" fill="#4F7BDC"/>
<circle cx="943.9" cy="226.6" r="2.10" fill="#4F7BDC"/>
<circle cx="953.2" cy="226.6" r="2.10" fill="#8A4ADC"/>
<circle cx="963.0" cy="226.6" r="2.10" fill="#8A4ADC"/>
<circle cx="988.2" cy="226.6" r="2.10" fill="#4F7BDC"/>
<circle cx="996.2" cy="226.6" r="2.10" fill="#4F7BDC"/>
<circle cx="1007.3" cy="226.6" r="2.10" fill="#D03C5A"/>
<circle cx="1037.1" cy="226.6" r="2.10" fill="#D03C5A"/>
<circle cx="1053.8" cy="226.6" r="2.10" fill="#D03C5A"/>
<circle cx="1062.0" cy="226.6" r="2.10" fill="#D03C5A"/>
<circle cx="1073.6" cy="226.6" r="2.10" fill="#76D25A"/>
<circle cx="1081.6" cy="226.6" r="2.10" fill="#D03C5A"/>
<circle cx="1094.8" cy="226.6" r="2.10" fill="#D03C5A"/>
<circle cx="707.5" cy="289.0" r="2.10" fill="#4F7BDC"/>
<circle cx="714.6" cy="289.0" r="2.10" fill="#E2EE58"/>
<circle cx="718.1" cy="289.0" r="2.10" fill="#E2EE58"/>
<circle cx="720.7" cy="289.0" r="2.10" fill="#E2EE58"/>
<circle cx="723.9" cy="289.0" r="2.10" fill="#E2EE58"/>
<circle cx="727.2" cy="289.0" r="2.10" fill="#E2EE58"/>
<circle cx="729.6" cy="289.0" r="2.10" fill="#E2EE58"/>
<circle cx="732.7" cy="289.0" r="2.10" fill="#E2EE58"/>
<circle cx="736.4" cy="289.0" r="2.10" fill="#E2EE58"/>
<circle cx="738.5" cy="289.0" r="2.10" fill="#E2EE58"/>
<circle cx="742.2" cy="289.0" r="2.10" fill="#E2EE58"/>
<circle cx="744.9" cy="289.0" r="2.10" fill="#E2EE58"/>
<circle cx="748.7" cy="289.0" r="2.10" fill="#E2EE58"/>
<circle cx="748.0" cy="289.0" r="2.10" fill="#4F7BDC"/>
<circle cx="752.3" cy="289.0" r="2.10" fill="#4F7BDC"/>
<circle cx="754.9" cy="289.0" r="2.10" fill="#4F7BDC"/>
<circle cx="759.6" cy="289.0" r="2.10" fill="#E2EE58"/>
<circle cx="763.9" cy="289.0" r="2.10" fill="#D03C5A"/>
<circle cx="767.2" cy="289.0" r="2.10" fill="#4F7BDC"/>
<circle cx="771.3" cy="289.0" r="2.10" fill="#8A4ADC"/>
<circle cx="775.1" cy="289.0" r="2.10" fill="#4F7BDC"/>
<circle cx="780.5" cy="289.0" r="2.10" fill="#8A4ADC"/>
<circle cx="782.8" cy="289.0" r="2.10" fill="#4F7BDC"/>
<circle cx="788.2" cy="289.0" r="2.10" fill="#76D25A"/>
<circle cx="790.7" cy="289.0" r="2.10" fill="#8A4ADC"/>
<circle cx="794.8" cy="289.0" r="2.10" fill="#8A4ADC"/>
<circle cx="800.2" cy="289.0" r="2.10" fill="#4F7BDC"/>
<circle cx="804.3" cy="289.0" r="2.10" fill="#4F7BDC"/>
<circle cx="806.5" cy="289.0" r="2.10" fill="#D03C5A"/>
<circle cx="812.4" cy="289.0" r="2.10" fill="#4F7BDC"/>
<circle cx="815.8" cy="289.0" r="2.10" fill="#76D25A"/>
<circle cx="819.7" cy="289.0" r="2.10" fill="#D03C5A"/>
<circle cx="823.9" cy="289.0" r="2.10" fill="#4F7BDC"/>
<circle cx="826.5" cy="289.0" r="2.10" fill="#4F7BDC"/>
<circle cx="830.2" cy="289.0" r="2.10" fill="#D03C5A"/>
<circle cx="834.1" cy="289.0" r="2.10" fill="#8A4ADC"/>
<circle cx="838.6" cy="289.0" r="2.10" fill="#4F7BDC"/>
<circle cx="844.2" cy="289.0" r="2.10" fill="#E2EE58"/>
<circle cx="846.0" cy="289.0" r="2.10" fill="#D03C5A"/>
<circle cx="851.5" cy="289.0" r="2.10" fill="#4F7BDC"/>
<circle cx="854.3" cy="289.0" r="2.10" fill="#4F7BDC"/>
<circle cx="859.1" cy="289.0" r="2.10" fill="#8A4ADC"/>
<circle cx="863.1" cy="289.0" r="2.10" fill="#8A4ADC"/>
<circle cx="866.8" cy="289.0" r="2.10" fill="#4F7BDC"/>
<circle cx="870.2" cy="289.0" r="2.10" fill="#E2EE58"/>
<circle cx="873.9" cy="289.0" r="2.10" fill="#8A4ADC"/>
<circle cx="877.8" cy="289.0" r="2.10" fill="#76D25A"/>
<circle cx="883.4" cy="289.0" r="2.10" fill="#4F7BDC"/>
<circle cx="886.6" cy="289.0" r="2.10" fill="#4F7BDC"/>
<circle cx="891.4" cy="289.0" r="2.10" fill="#76D25A"/>
<circle cx="893.8" cy="289.0" r="2.10" fill="#8A4ADC"/>
<circle cx="898.6" cy="289.0" r="2.10" fill="#4F7BDC"/>
<circle cx="903.9" cy="289.0" r="2.10" fill="#E2EE58"/>
<circle cx="906.1" cy="289.0" r="2.10" fill="#4F7BDC"/>
<circle cx="909.8" cy="289.0" r="2.10" fill="#E2EE58"/>
<circle cx="915.1" cy="289.0" r="2.10" fill="#E2EE58"/>
<circle cx="918.9" cy="289.0" r="2.10" fill="#8A4ADC"/>
<circle cx="922.4" cy="289.0" r="2.10" fill="#D03C5A"/>
<circle cx="927.6" cy="289.0" r="2.10" fill="#E2EE58"/>
<circle cx="930.8" cy="289.0" r="2.10" fill="#4F7BDC"/>
<circle cx="933.5" cy="289.0" r="2.10" fill="#D03C5A"/>
<circle cx="937.3" cy="289.0" r="2.10" fill="#E2EE58"/>
<circle cx="943.4" cy="289.0" r="2.10" fill="#4F7BDC"/>
<circle cx="947.4" cy="289.0" r="2.10" fill="#8A4ADC"/>
<circle cx="949.6" cy="289.0" r="2.10" fill="#4F7BDC"/>
<circle cx="953.9" cy="289.0" r="2.10" fill="#4F7BDC"/>
<circle cx="958.0" cy="289.0" r="2.10" fill="#8A4ADC"/>
<circle cx="963.2" cy="289.0" r="2.10" fill="#8A4ADC"/>
<circle cx="967.0" cy="289.0" r="2.10" fill="#D03C5A"/>
<circle cx="970.1" cy="289.0" r="2.10" fill="#D03C5A"/>
<circle cx="974.6" cy="289.0" r="2.10" fill="#4F7BDC"/>
<circle cx="977.9" cy="289.0" r="2.10" fill="#4F7BDC"/>
<circle cx="982.2" cy="289.0" r="2.10" fill="#E2EE58"/>
<circle cx="986.7" cy="289.0" r="2.10" fill="#4F7BDC"/>
<circle cx="990.3" cy="289.0" r="2.10" fill="#E2EE58"/>
<circle cx="1035.5" cy="289.0" r="2.10" fill="#D03C5A"/>
<circle cx="1060.5" cy="289.0" r="2.10" fill="#D03C5A"/>
<circle cx="1077.5" cy="289.0" r="2.10" fill="#D03C5A"/>
<circle cx="697.9" cy="351.3" r="2.10" fill="#E2EE58"/>
<circle cx="703.1" cy="351.3" r="2.10" fill="#E2EE58"/>
<circle cx="706.2" cy="351.3" r="2.10" fill="#E2EE58"/>
<circle cx="710.9" cy="351.3" r="2.10" fill="#E2EE58"/>
<circle cx="713.2" cy="351.3" r="2.10" fill="#E2EE58"/>
<circle cx="718.4" cy="351.3" r="2.10" fill="#E2EE58"/>
<circle cx="717.2" cy="351.3" r="2.10" fill="#8A4ADC"/>
<circle cx="720.6" cy="351.3" r="2.10" fill="#E2EE58"/>
<circle cx="725.1" cy="351.3" r="2.10" fill="#4F7BDC"/>
<circle cx="728.3" cy="351.3" r="2.10" fill="#D03C5A"/>
<circle cx="730.0" cy="351.3" r="2.10" fill="#4F7BDC"/>
<circle cx="733.4" cy="351.3" r="2.10" fill="#4F7BDC"/>
<circle cx="736.3" cy="351.3" r="2.10" fill="#4F7BDC"/>
<circle cx="741.0" cy="351.3" r="2.10" fill="#4F7BDC"/>
<circle cx="743.5" cy="351.3" r="2.10" fill="#4F7BDC"/>
<circle cx="746.0" cy="351.3" r="2.10" fill="#4F7BDC"/>
<circle cx="749.5" cy="351.3" r="2.10" fill="#8A4ADC"/>
<circle cx="753.0" cy="351.3" r="2.10" fill="#4F7BDC"/>
<circle cx="756.0" cy="351.3" r="2.10" fill="#4F7BDC"/>
<circle cx="758.6" cy="351.3" r="2.10" fill="#8A4ADC"/>
<circle cx="763.5" cy="351.3" r="2.10" fill="#E2EE58"/>
<circle cx="765.8" cy="351.3" r="2.10" fill="#4F7BDC"/>
<circle cx="769.3" cy="351.3" r="2.10" fill="#4F7BDC"/>
<circle cx="772.8" cy="351.3" r="2.10" fill="#4F7BDC"/>
<circle cx="775.4" cy="351.3" r="2.10" fill="#4F7BDC"/>
<circle cx="778.4" cy="351.3" r="2.10" fill="#4F7BDC"/>
<circle cx="781.9" cy="351.3" r="2.10" fill="#4F7BDC"/>
<circle cx="785.5" cy="351.3" r="2.10" fill="#4F7BDC"/>
<circle cx="788.4" cy="351.3" r="2.10" fill="#4F7BDC"/>
<circle cx="790.8" cy="351.3" r="2.10" fill="#4F7BDC"/>
<circle cx="794.7" cy="351.3" r="2.10" fill="#4F7BDC"/>
<circle cx="798.3" cy="351.3" r="2.10" fill="#4F7BDC"/>
<circle cx="800.1" cy="351.3" r="2.10" fill="#4F7BDC"/>
<circle cx="803.4" cy="351.3" r="2.10" fill="#4F7BDC"/>
<circle cx="808.3" cy="351.3" r="2.10" fill="#8A4ADC"/>
<circle cx="811.5" cy="351.3" r="2.10" fill="#E2EE58"/>
<circle cx="813.3" cy="351.3" r="2.10" fill="#4F7BDC"/>
<circle cx="816.6" cy="351.3" r="2.10" fill="#4F7BDC"/>
<circle cx="821.0" cy="351.3" r="2.10" fill="#4F7BDC"/>
<circle cx="823.4" cy="351.3" r="2.10" fill="#4F7BDC"/>
<circle cx="827.4" cy="351.3" r="2.10" fill="#4F7BDC"/>
<circle cx="829.7" cy="351.3" r="2.10" fill="#E2EE58"/>
<circle cx="833.5" cy="351.3" r="2.10" fill="#8A4ADC"/>
<circle cx="835.9" cy="351.3" r="2.10" fill="#D03C5A"/>
<circle cx="840.2" cy="351.3" r="2.10" fill="#4F7BDC"/>
<circle cx="842.4" cy="351.3" r="2.10" fill="#4F7BDC"/>
<circle cx="845.5" cy="351.3" r="2.10" fill="#4F7BDC"/>
<circle cx="848.5" cy="351.3" r="2.10" fill="#E2EE58"/>
<circle cx="852.1" cy="351.3" r="2.10" fill="#D03C5A"/>
<circle cx="856.2" cy="351.3" r="2.10" fill="#4F7BDC"/>
<circle cx="859.3" cy="351.3" r="2.10" fill="#4F7BDC"/>
<circle cx="861.7" cy="351.3" r="2.10" fill="#4F7BDC"/>
<circle cx="864.6" cy="351.3" r="2.10" fill="#8A4ADC"/>
<circle cx="868.1" cy="351.3" r="2.10" fill="#4F7BDC"/>
<circle cx="871.6" cy="351.3" r="2.10" fill="#8A4ADC"/>
<circle cx="873.8" cy="351.3" r="2.10" fill="#4F7BDC"/>
<circle cx="878.0" cy="351.3" r="2.10" fill="#4F7BDC"/>
<circle cx="881.0" cy="351.3" r="2.10" fill="#4F7BDC"/>
<circle cx="883.7" cy="351.3" r="2.10" fill="#4F7BDC"/>
<circle cx="887.2" cy="351.3" r="2.10" fill="#4F7BDC"/>
<circle cx="890.0" cy="351.3" r="2.10" fill="#4F7BDC"/>
<circle cx="894.0" cy="351.3" r="2.10" fill="#4F7BDC"/>
<circle cx="897.2" cy="351.3" r="2.10" fill="#E2EE58"/>
<circle cx="899.7" cy="351.3" r="2.10" fill="#4F7BDC"/>
<circle cx="904.2" cy="351.3" r="2.10" fill="#8A4ADC"/>
<circle cx="911.6" cy="351.3" r="2.10" fill="#D03C5A"/>
<circle cx="922.7" cy="351.3" r="2.10" fill="#8A4ADC"/>
<circle cx="930.3" cy="351.3" r="2.10" fill="#4F7BDC"/>
<circle cx="934.5" cy="351.3" r="2.10" fill="#8A4ADC"/>
<circle cx="945.9" cy="351.3" r="2.10" fill="#76D25A"/>
<circle cx="952.4" cy="351.3" r="2.10" fill="#8A4ADC"/>
<circle cx="958.0" cy="351.3" r="2.10" fill="#4F7BDC"/>
<circle cx="967.5" cy="351.3" r="2.10" fill="#4F7BDC"/>
<circle cx="973.5" cy="351.3" r="2.10" fill="#8A4ADC"/>
<circle cx="982.1" cy="351.3" r="2.10" fill="#4F7BDC"/>
<circle cx="989.5" cy="351.3" r="2.10" fill="#8A4ADC"/>
<circle cx="709.4" cy="413.6" r="2.10" fill="#D03C5A"/>
<circle cx="712.0" cy="413.6" r="2.10" fill="#4F7BDC"/>
<circle cx="714.8" cy="413.6" r="2.10" fill="#76D25A"/>
<circle cx="717.4" cy="413.6" r="2.10" fill="#4F7BDC"/>
<circle cx="722.2" cy="413.6" r="2.10" fill="#76D25A"/>
<circle cx="724.9" cy="413.6" r="2.10" fill="#76D25A"/>
<circle cx="728.3" cy="413.6" r="2.10" fill="#4F7BDC"/>
<circle cx="731.1" cy="413.6" r="2.10" fill="#4F7BDC"/>
<circle cx="733.7" cy="413.6" r="2.10" fill="#8A4ADC"/>
<circle cx="736.5" cy="413.6" r="2.10" fill="#4F7BDC"/>
<circle cx="740.8" cy="413.6" r="2.10" fill="#4F7BDC"/>
<circle cx="743.7" cy="413.6" r="2.10" fill="#4F7BDC"/>
<circle cx="745.8" cy="413.6" r="2.10" fill="#76D25A"/>
<circle cx="749.3" cy="413.6" r="2.10" fill="#4F7BDC"/>
<circle cx="752.7" cy="413.6" r="2.10" fill="#76D25A"/>
<circle cx="755.6" cy="413.6" r="2.10" fill="#4F7BDC"/>
<circle cx="759.4" cy="413.6" r="2.10" fill="#8A4ADC"/>
<circle cx="762.3" cy="413.6" r="2.10" fill="#76D25A"/>
<circle cx="765.5" cy="413.6" r="2.10" fill="#4F7BDC"/>
<circle cx="767.1" cy="413.6" r="2.10" fill="#4F7BDC"/>
<circle cx="770.4" cy="413.6" r="2.10" fill="#4F7BDC"/>
<circle cx="774.2" cy="413.6" r="2.10" fill="#4F7BDC"/>
<circle cx="777.9" cy="413.6" r="2.10" fill="#4F7BDC"/>
<circle cx="780.4" cy="413.6" r="2.10" fill="#4F7BDC"/>
<circle cx="783.5" cy="413.6" r="2.10" fill="#8A4ADC"/>
<circle cx="786.6" cy="413.6" r="2.10" fill="#76D25A"/>
<circle cx="790.1" cy="413.6" r="2.10" fill="#4F7BDC"/>
<circle cx="792.2" cy="413.6" r="2.10" fill="#4F7BDC"/>
<circle cx="795.7" cy="413.6" r="2.10" fill="#4F7BDC"/>
<circle cx="799.4" cy="413.6" r="2.10" fill="#8A4ADC"/>
<circle cx="802.3" cy="413.6" r="2.10" fill="#D03C5A"/>
<circle cx="804.8" cy="413.6" r="2.10" fill="#76D25A"/>
<circle cx="807.5" cy="413.6" r="2.10" fill="#4F7BDC"/>
<circle cx="811.2" cy="413.6" r="2.10" fill="#76D25A"/>
<circle cx="814.7" cy="413.6" r="2.10" fill="#8A4ADC"/>
<circle cx="817.7" cy="413.6" r="2.10" fill="#4F7BDC"/>
<circle cx="820.2" cy="413.6" r="2.10" fill="#76D25A"/>
<circle cx="824.6" cy="413.6" r="2.10" fill="#4F7BDC"/>
<circle cx="827.8" cy="413.6" r="2.10" fill="#76D25A"/>
<circle cx="829.9" cy="413.6" r="2.10" fill="#4F7BDC"/>
<circle cx="833.0" cy="413.6" r="2.10" fill="#4F7BDC"/>
<circle cx="845.7" cy="413.6" r="2.10" fill="#4F7BDC"/>
<circle cx="851.3" cy="413.6" r="2.10" fill="#4F7BDC"/>
<circle cx="862.3" cy="413.6" r="2.10" fill="#D03C5A"/>
<circle cx="872.7" cy="413.6" r="2.10" fill="#D03C5A"/>
<circle cx="879.2" cy="413.6" r="2.10" fill="#4F7BDC"/>
<circle cx="890.8" cy="413.6" r="2.10" fill="#4F7BDC"/>
<polygon points="714.8,388.3 730.6,380.7 746.3,373.0 762.1,365.3 777.9,357.5 793.6,349.7 809.4,341.8 825.2,333.7 840.9,325.3 856.7,316.6 872.5,307.4 888.2,297.8 904.0,287.9 919.8,277.8 935.5,267.5 951.3,257.1 967.1,246.7 982.8,236.2 998.6,225.7 1014.4,215.2 1030.1,204.7 1045.9,194.2 1061.7,183.6 1077.4,173.1 1093.2,162.5 1093.2,208.5 1077.4,216.1 1061.7,223.7 1045.9,231.3 1030.1,238.9 1014.4,246.5 998.6,254.2 982.8,261.8 967.1,269.5 951.3,277.2 935.5,285.0 919.8,292.9 904.0,300.9 888.2,309.1 872.5,317.7 856.7,326.6 840.9,336.1 825.2,345.9 809.4,355.9 793.6,366.1 777.9,376.5 762.1,386.9 746.3,397.3 730.6,407.8 714.8,418.3" fill="#999999" fill-opacity="0.4"/>
<line x1="714.8" y1="403.3" x2="1093.2" y2="185.5" stroke="#E84457" stroke-width="6.4"/>
<polygon points="710.4,399.1 725.0,390.2 739.5,381.3 754.1,372.3 768.6,363.3 783.2,354.2 797.8,345.0 812.3,335.5 826.9,325.7 841.5,315.5 856.0,304.7 870.6,293.5 885.2,282.1 899.7,270.4 914.3,258.7 928.8,246.9 943.4,235.0 958.0,223.1 972.5,211.2 987.1,199.2 1001.7,187.3 1016.2,175.3 1030.8,163.4 1045.3,151.4 1059.9,139.4 1059.9,189.4 1045.3,198.2 1030.8,207.1 1016.2,215.9 1001.7,224.8 987.1,233.6 972.5,242.5 958.0,251.4 943.4,260.3 928.8,269.2 914.3,278.2 899.7,287.3 885.2,296.4 870.6,305.8 856.0,315.4 841.5,325.5 826.9,336.0 812.3,347.0 797.8,358.4 783.2,370.0 768.6,381.7 754.1,393.5 739.5,405.3 725.0,417.2 710.4,429.1" fill="#999999" fill-opacity="0.4"/>
<line x1="710.4" y1="414.1" x2="1059.9" y2="164.4" stroke="#9852EE" stroke-width="6.4"/>
<polygon points="700.7,331.6 713.6,322.3 726.4,312.9 739.3,303.5 752.2,293.9 765.1,284.1 777.9,274.0 790.8,263.6 803.7,252.8 816.5,241.6 829.4,230.0 842.3,218.3 855.2,206.4 868.0,194.4 880.9,182.3 893.8,170.2 906.6,158.0 919.5,145.8 932.4,133.6 945.2,121.4 958.1,109.1 971.0,96.9 983.9,84.6 996.7,72.4 1009.6,60.1 1009.6,115.1 996.7,124.3 983.9,133.4 971.0,142.6 958.1,151.7 945.2,160.9 932.4,170.1 919.5,179.3 906.6,188.5 893.8,197.8 880.9,207.1 868.0,216.4 855.2,225.8 842.3,235.3 829.4,245.0 816.5,254.9 803.7,265.1 790.8,275.7 777.9,286.7 765.1,298.0 752.2,309.7 739.3,321.5 726.4,333.5 713.6,345.5 700.7,357.6" fill="#999999" fill-opacity="0.4"/>
<line x1="700.7" y1="344.6" x2="1009.6" y2="87.6" stroke="#EEF763" stroke-width="6.4"/>
<polygon points="710.4,408.9 723.2,399.4 736.0,389.9 748.7,380.3 761.5,370.7 774.3,361.1 787.1,351.3 799.9,341.4 812.6,331.3 825.4,320.8 838.2,309.9 851.0,298.6 863.8,287.0 876.5,275.1 889.3,263.1 902.1,251.0 914.9,238.8 927.6,226.6 940.4,214.4 953.2,202.1 966.0,189.8 978.8,177.5 991.5,165.2 1004.3,152.8 1017.1,140.5 1017.1,184.5 1004.3,194.0 991.5,203.4 978.8,212.9 966.0,222.3 953.2,231.8 940.4,241.3 927.6,250.9 914.9,260.4 902.1,270.0 889.3,279.7 876.5,289.5 863.8,299.4 851.0,309.5 838.2,320.0 825.4,330.9 812.6,342.3 799.9,353.9 787.1,365.8 774.3,377.8 761.5,389.9 748.7,402.1 736.0,414.4 723.2,426.6 710.4,438.9" fill="#999999" fill-opacity="0.4"/>
<line x1="710.4" y1="423.9" x2="1017.1" y2="162.5" stroke="#5B87F5" stroke-width="6.4"/>
<polygon points="747.3,398.8 761.4,386.0 775.5,373.1 789.6,360.3 803.8,347.4 817.9,334.4 832.0,321.5 846.1,308.4 860.2,295.3 874.3,281.9 888.5,268.2 902.6,253.9 916.7,239.1 930.8,223.8 944.9,208.1 959.0,192.2 973.2,176.2 987.3,160.1 1001.4,143.9 1015.5,127.7 1029.6,111.5 1043.8,95.3 1057.9,79.1 1072.0,62.8 1086.1,46.6 1086.1,93.4 1072.0,106.2 1057.9,119.0 1043.8,131.9 1029.6,144.7 1015.5,157.6 1001.4,170.5 987.3,183.4 973.2,196.4 959.0,209.4 944.9,222.6 930.8,236.0 916.7,249.7 902.6,263.9 888.5,278.8 874.3,294.1 860.2,309.8 846.1,325.7 832.0,341.7 817.9,357.8 803.8,374.0 789.6,390.1 775.5,406.3 761.4,422.6 747.3,438.8" fill="#999999" fill-opacity="0.4"/>
<line x1="747.3" y1="418.8" x2="1086.1" y2="70.0" stroke="#8BEC60" stroke-width="6.4"/>
</g>
<clipPath id="clipC"><rect x="87.5" y="534.3" width="497.2" height="411.2"/></clipPath>
<g clip-path="url(#clipC)">
<circle cx="185.8" cy="552.8" r="2.10" fill="#E2EE58"/>
<circle cx="199.9" cy="552.8" r="2.10" fill="#E2EE58"/>
<circle cx="207.3" cy="552.8" r="2.10" fill="#8A4ADC"/>
<circle cx="221.0" cy="552.8" r="2.10" fill="#E2EE58"/>
<circle cx="232.3" cy="552.8" r="2.10" fill="#8A4ADC"/>
<circle cx="247.3" cy="552.8" r="2.10" fill="#8A4ADC"/>
<circle cx="259.3" cy="552.8" r="2.10" fill="#8A4ADC"/>
<circle cx="266.4" cy="552.8" r="2.10" fill="#E2EE58"/>
<circle cx="301.1" cy="552.8" r="2.10" fill="#D03C5A"/>
<circle cx="305.1" cy="552.8" r="2.10" fill="#D03C5A"/>
<circle cx="311.4" cy="552.8" r="2.10" fill="#D03C5A"/>
<circle cx="317.7" cy="552.8" r="2.10" fill="#D03C5A"/>
<circle cx="324.6" cy="552.8" r="2.10" fill="#D03C5A"/>
<circle cx="328.7" cy="552.8" r="2.10" fill="#D03C5A"/>
<circle cx="341.4" cy="552.8" r="2.10" fill="#D03C5A"/>
<circle cx="345.0" cy="552.8" r="2.10" fill="#D03C5A"/>
<circle cx="355.0" cy="552.8" r="2.10" fill="#76D25A"/>
<circle cx="361.9" cy="552.8" r="2.10" fill="#E2EE58"/>
<circle cx="368.1" cy="552.8" r="2.10" fill="#76D25A"/>
<circle cx="373.8" cy="552.8" r="2.10" fill="#76D25A"/>
<circle cx="378.2" cy="552.8" r="2.10" fill="#E2EE58"/>
<circle cx="387.5" cy="552.8" r="2.10" fill="#D03C5A"/>
<circle cx="394.0" cy="552.8" r="2.10" fill="#D03C5A"/>
<circle cx="398.8" cy="552.8" r="2.10" fill="#4F7BDC"/>
<circle cx="405.7" cy="552.8" r="2.10" fill="#E2EE58"/>
<circle cx="413.0" cy="552.8" r="2.10" fill="#76D25A"/>
<circle cx="419.2" cy="552.8" r="2.10" fill="#D03C5A"/>
<circle cx="428.2" cy="552.8" r="2.10" fill="#76D25A"/>
<circle cx="434.2" cy="552.8" r="2.10" fill="#76D25A"/>
<circle cx="440.9" cy="552.8" r="2.10" fill="#76D25A"/>
<circle cx="445.5" cy="552.8" r="2.10" fill="#8A4ADC"/>
<circle cx="455.4" cy="552.8" r="2.10" fill="#76D25A"/>
<circle cx="461.1" cy="552.8" r="2.10" fill="#D03C5A"/>
<circle cx="466.0" cy="552.8" r="2.10" fill="#76D25A"/>
<circle cx="472.8" cy="552.8" r="2.10" fill="#E2EE58"/>
<circle cx="481.6" cy="552.8" r="2.10" fill="#E2EE58"/>
<circle cx="488.0" cy="552.8" r="2.10" fill="#E2EE58"/>
<circle cx="494.2" cy="552.8" r="2.10" fill="#D03C5A"/>
<circle cx="270.0" cy="615.2" r="2.10" fill="#E2EE58"/>
<circle cx="290.4" cy="615.2" r="2.10" fill="#E2EE58"/>
<circle cx="305.1" cy="615.2" r="2.10" fill="#4F7BDC"/>
<circle cx="334.8" cy="615.2" r="2.10" fill="#E2EE58"/>
<circle cx="345.0" cy="615.2" r="2.10" fill="#76D25A"/>
<circle cx="352.5" cy="615.2" r="2.10" fill="#76D25A"/>
<circle cx="365.9" cy="615.2" r="2.10" fill="#76D25A"/>
<circle cx="371.4" cy="615.2" r="2.10" fill="#8A4ADC"/>
<circle cx="382.5" cy="615.2" r="2.10" fill="#76D25A"/>
<circle cx="392.1" cy="615.2" r="2.10" fill="#8A4ADC"/>
<circle cx="403.5" cy="615.2" r="2.10" fill="#8A4ADC"/>
<circle cx="410.6" cy="615.2" r="2.10" fill="#76D25A"/>
<circle cx="151.4" cy="677.6" r="2.10" fill="#E2EE58"/>
<circle cx="159.9" cy="677.6" r="2.10" fill="#E2EE58"/>
<circle cx="163.9" cy="677.6" r="2.10" fill="#E2EE58"/>
<circle cx="172.9" cy="677.6" r="2.10" fill="#E2EE58"/>
<circle cx="179.7" cy="677.6" r="2.10" fill="#4F7BDC"/>
<circle cx="185.0" cy="677.6" r="2.10" fill="#4F7BDC"/>
<circle cx="192.3" cy="677.6" r="2.10" fill="#8A4ADC"/>
<circle cx="196.0" cy="677.6" r="2.10" fill="#8A4ADC"/>
<circle cx="204.6" cy="677.6" r="2.10" fill="#E2EE58"/>
<circle cx="209.0" cy="677.6" r="2.10" fill="#E2EE58"/>
<circle cx="216.3" cy="677.6" r="2.10" fill="#E2EE58"/>
<circle cx="223.5" cy="677.6" r="2.10" fill="#E2EE58"/>
<circle cx="228.9" cy="677.6" r="2.10" fill="#E2EE58"/>
<circle cx="235.8" cy="677.6" r="2.10" fill="#E2EE58"/>
<circle cx="240.8" cy="677.6" r="2.10" fill="#4F7BDC"/>
<circle cx="248.1" cy="677.6" r="2.10" fill="#4F7BDC"/>
<circle cx="254.9" cy="677.6" r="2.10" fill="#E2EE58"/>
<circle cx="263.5" cy="677.6" r="2.10" fill="#E2EE58"/>
<circle cx="267.4" cy="677.6" r="2.10" fill="#E2EE58"/>
<circle cx="275.0" cy="677.6" r="2.10" fill="#4F7BDC"/>
<circle cx="280.2" cy="677.6" r="2.10" fill="#E2EE58"/>
<circle cx="288.0" cy="677.6" r="2.10" fill="#8A4ADC"/>
<circle cx="293.9" cy="677.6" r="2.10" fill="#4F7BDC"/>
<circle cx="301.1" cy="677.6" r="2.10" fill="#E2EE58"/>
<circle cx="299.7" cy="677.6" r="2.10" fill="#E2EE58"/>
<circle cx="305.0" cy="677.6" r="2.10" fill="#4F7BDC"/>
<circle cx="309.4" cy="677.6" r="2.10" fill="#E2EE58"/>
<circle cx="313.1" cy="677.6" r="2.10" fill="#8A4ADC"/>
<circle cx="320.2" cy="677.6" r="2.10" fill="#8A4ADC"/>
<circle cx="324.5" cy="677.6" r="2.10" fill="#4F7BDC"/>
<circle cx="329.8" cy="677.6" r="2.10" fill="#E2EE58"/>
<circle cx="334.1" cy="677.6" r="2.10" fill="#E2EE58"/>
<circle cx="337.8" cy="677.6" r="2.10" fill="#8A4ADC"/>
<circle cx="343.8" cy="677.6" r="2.10" fill="#4F7BDC"/>
<circle cx="347.1" cy="677.6" r="2.10" fill="#4F7BDC"/>
<circle cx="354.2" cy="677.6" r="2.10" fill="#E2EE58"/>
<circle cx="358.7" cy="677.6" r="2.10" fill="#4F7BDC"/>
<circle cx="362.4" cy="677.6" r="2.10" fill="#4F7BDC"/>
<circle cx="368.4" cy="677.6" r="2.10" fill="#76D25A"/>
<circle cx="373.5" cy="677.6" r="2.10" fill="#4F7BDC"/>
<circle cx="377.0" cy="677.6" r="2.10" fill="#4F7BDC"/>
<circle cx="380.7" cy="677.6" r="2.10" fill="#4F7BDC"/>
<circle cx="386.9" cy="677.6" r="2.10" fill="#4F7BDC"/>
<circle cx="392.7" cy="677.6" r="2.10" fill="#E2EE58"/>
<circle cx="396.8" cy="677.6" r="2.10" fill="#E2EE58"/>
<circle cx="401.2" cy="677.6" r="2.10" fill="#4F7BDC"/>
<circle cx="406.7" cy="677.6" r="2.10" fill="#4F7BDC"/>
<circle cx="411.0" cy="677.6" r="2.10" fill="#E2EE58"/>
<circle cx="416.0" cy="677.6" r="2.10" fill="#E2EE58"/>
<circle cx="421.1" cy="677.6" r="2.10" fill="#8A4ADC"/>
<circle cx="426.7" cy="677.6" r="2.10" fill="#4F7BDC"/>
<circle cx="430.1" cy="677.6" r="2.10" fill="#4F7BDC"/>
<circle cx="435.7" cy="677.6" r="2.10" fill="#E2EE58"/>
<circle cx="441.4" cy="677.6" r="2.10" fill="#E2EE58"/>
<circle cx="433.4" cy="677.6" r="2.10" fill="#76D25A"/>
<circle cx="447.9" cy="677.6" r="2.10" fill="#76D25A"/>
<circle cx="464.4" cy="677.6" r="2.10" fill="#D03C5A"/>
<circle cx="479.4" cy="677.6" r="2.10" fill="#D03C5A"/>
<circle cx="500.9" cy="677.6" r="2.10" fill="#76D25A"/>
<circle cx="131.1" cy="740.0" r="2.10" fill="#E2EE58"/>
<circle cx="149.6" cy="740.0" r="2.10" fill="#E2EE58"/>
<circle cx="163.6" cy="740.0" r="2.10" fill="#E2EE58"/>
<circle cx="184.6" cy="740.0" r="2.10" fill="#E2EE58"/>
<circle cx="201.0" cy="740.0" r="2.10" fill="#E2EE58"/>
<circle cx="204.4" cy="740.0" r="2.10" fill="#E2EE58"/>
<circle cx="206.8" cy="740.0" r="2.10" fill="#E2EE58"/>
<circle cx="211.4" cy="740.0" r="2.10" fill="#E2EE58"/>
<circle cx="216.1" cy="740.0" r="2.10" fill="#E2EE58"/>
<circle cx="220.5" cy="740.0" r="2.10" fill="#E2EE58"/>
<circle cx="223.6" cy="740.0" r="2.10" fill="#E2EE58"/>
<circle cx="226.9" cy="740.0" r="2.10" fill="#E2EE58"/>
<circle cx="231.0" cy="740.0" r="2.10" fill="#E2EE58"/>
<circle cx="234.2" cy="740.0" r="2.10" fill="#E2EE58"/>
<circle cx="239.7" cy="740.0" r="2.10" fill="#76D25A"/>
<circle cx="242.9" cy="740.0" r="2.10" fill="#8A4ADC"/>
<circle cx="247.2" cy="740.0" r="2.10" fill="#8A4ADC"/>
<circle cx="251.8" cy="740.0" r="2.10" fill="#4F7BDC"/>
<circle cx="254.0" cy="740.0" r="2.10" fill="#4F7BDC"/>
<circle cx="257.1" cy="740.0" r="2.10" fill="#76D25A"/>
<circle cx="262.0" cy="740.0" r="2.10" fill="#4F7BDC"/>
<circle cx="264.8" cy="740.0" r="2.10" fill="#4F7BDC"/>
<circle cx="269.3" cy="740.0" r="2.10" fill="#4F7BDC"/>
<circle cx="273.1" cy="740.0" r="2.10" fill="#4F7BDC"/>
<circle cx="276.7" cy="740.0" r="2.10" fill="#4F7BDC"/>
<circle cx="279.4" cy="740.0" r="2.10" fill="#E2EE58"/>
<circle cx="282.9" cy="740.0" r="2.10" fill="#76D25A"/>
<circle cx="286.5" cy="740.0" r="2.10" fill="#E2EE58"/>
<circle cx="291.1" cy="740.0" r="2.10" fill="#4F7BDC"/>
<circle cx="294.4" cy="740.0" r="2.10" fill="#4F7BDC"/>
<circle cx="297.1" cy="740.0" r="2.10" fill="#8A4ADC"/>
<circle cx="300.5" cy="740.0" r="2.10" fill="#4F7BDC"/>
<circle cx="304.3" cy="740.0" r="2.10" fill="#E2EE58"/>
<circle cx="309.1" cy="740.0" r="2.10" fill="#4F7BDC"/>
<circle cx="311.2" cy="740.0" r="2.10" fill="#4F7BDC"/>
<circle cx="316.0" cy="740.0" r="2.10" fill="#8A4ADC"/>
<circle cx="318.9" cy="740.0" r="2.10" fill="#4F7BDC"/>
<circle cx="322.9" cy="740.0" r="2.10" fill="#8A4ADC"/>
<circle cx="327.0" cy="740.0" r="2.10" fill="#E2EE58"/>
<circle cx="330.6" cy="740.0" r="2.10" fill="#76D25A"/>
<circle cx="331.9" cy="740.0" r="2.10" fill="#76D25A"/>
<circle cx="336.5" cy="740.0" r="2.10" fill="#4F7BDC"/>
<circle cx="345.4" cy="740.0" r="2.10" fill="#4F7BDC"/>
<circle cx="352.9" cy="740.0" r="2.10" fill="#8A4ADC"/>
<circle cx="359.7" cy="740.0" r="2.10" fill="#4F7BDC"/>
<circle cx="367.9" cy="740.0" r="2.10" fill="#4F7BDC"/>
<circle cx="374.2" cy="740.0" r="2.10" fill="#8A4ADC"/>
<circle cx="382.5" cy="740.0" r="2.10" fill="#76D25A"/>
<circle cx="388.2" cy="740.0" r="2.10" fill="#8A4ADC"/>
<circle cx="397.7" cy="740.0" r="2.10" fill="#8A4ADC"/>
<circle cx="409.8" cy="740.0" r="2.10" fill="#D03C5A"/>
<circle cx="419.6" cy="740.0" r="2.10" fill="#D03C5A"/>
<circle cx="431.3" cy="740.0" r="2.10" fill="#D03C5A"/>
<circle cx="447.4" cy="740.0" r="2.10" fill="#76D25A"/>
<circle cx="456.0" cy="740.0" r="2.10" fill="#D03C5A"/>
<circle cx="467.8" cy="740.0" r="2.10" fill="#D03C5A"/>
<circle cx="483.0" cy="740.0" r="2.10" fill="#D03C5A"/>
<circle cx="489.0" cy="740.0" r="2.10" fill="#D03C5A"/>
<circle cx="503.1" cy="740.0" r="2.10" fill="#D03C5A"/>
<circle cx="122.4" cy="802.4" r="2.10" fill="#E2EE58"/>
<circle cx="148.6" cy="802.4" r="2.10" fill="#E2EE58"/>
<circle cx="154.5" cy="802.4" r="2.10" fill="#8A4ADC"/>
<circle cx="159.0" cy="802.4" r="2.10" fill="#76D25A"/>
<circle cx="164.0" cy="802.4" r="2.10" fill="#4F7BDC"/>
<circle cx="166.9" cy="802.4" r="2.10" fill="#E2EE58"/>
<circle cx="172.8" cy="802.4" r="2.10" fill="#E2EE58"/>
<circle cx="176.3" cy="802.4" r="2.10" fill="#4F7BDC"/>
<circle cx="181.1" cy="802.4" r="2.10" fill="#E2EE58"/>
<circle cx="186.4" cy="802.4" r="2.10" fill="#D03C5A"/>
<circle cx="189.4" cy="802.4" r="2.10" fill="#8A4ADC"/>
<circle cx="194.0" cy="802.4" r="2.10" fill="#D03C5A"/>
<circle cx="198.5" cy="802.4" r="2.10" fill="#8A4ADC"/>
<circle cx="202.0" cy="802.4" r="2.10" fill="#76D25A"/>
<circle cx="207.2" cy="802.4" r="2.10" fill="#E2EE58"/>
<circle cx="211.9" cy="802.4" r="2.10" fill="#4F7BDC"/>
<circle cx="217.3" cy="802.4" r="2.10" fill="#4F7BDC"/>
<circle cx="221.8" cy="802.4" r="2.10" fill="#4F7BDC"/>
<circle cx="224.5" cy="802.4" r="2.10" fill="#E2EE58"/>
<circle cx="229.9" cy="802.4" r="2.10" fill="#76D25A"/>
<circle cx="233.6" cy="802.4" r="2.10" fill="#E2EE58"/>
<circle cx="239.2" cy="802.4" r="2.10" fill="#8A4ADC"/>
<circle cx="243.9" cy="802.4" r="2.10" fill="#E2EE58"/>
<circle cx="246.2" cy="802.4" r="2.10" fill="#4F7BDC"/>
<circle cx="252.6" cy="802.4" r="2.10" fill="#8A4ADC"/>
<circle cx="256.8" cy="802.4" r="2.10" fill="#8A4ADC"/>
<circle cx="261.1" cy="802.4" r="2.10" fill="#8A4ADC"/>
<circle cx="263.9" cy="802.4" r="2.10" fill="#76D25A"/>
<circle cx="269.5" cy="802.4" r="2.10" fill="#E2EE58"/>
<circle cx="272.1" cy="802.4" r="2.10" fill="#D03C5A"/>
<circle cx="277.2" cy="802.4" r="2.10" fill="#8A4ADC"/>
<circle cx="283.2" cy="802.4" r="2.10" fill="#4F7BDC"/>
<circle cx="286.7" cy="802.4" r="2.10" fill="#E2EE58"/>
<circle cx="291.5" cy="802.4" r="2.10" fill="#4F7BDC"/>
<circle cx="295.1" cy="802.4" r="2.10" fill="#8A4ADC"/>
<circle cx="299.0" cy="802.4" r="2.10" fill="#4F7BDC"/>
<circle cx="303.7" cy="802.4" r="2.10" fill="#4F7BDC"/>
<circle cx="307.5" cy="802.4" r="2.10" fill="#E2EE58"/>
<circle cx="313.6" cy="802.4" r="2.10" fill="#8A4ADC"/>
<circle cx="317.0" cy="802.4" r="2.10" fill="#E2EE58"/>
<circle cx="322.3" cy="802.4" r="2.10" fill="#D03C5A"/>
<circle cx="327.0" cy="802.4" r="2.10" fill="#E2EE58"/>
<circle cx="329.2" cy="802.4" r="2.10" fill="#8A4ADC"/>
<circle cx="335.7" cy="802.4" r="2.10" fill="#D03C5A"/>
<circle cx="339.8" cy="802.4" r="2.10" fill="#4F7BDC"/>
<circle cx="344.5" cy="802.4" r="2.10" fill="#4F7BDC"/>
<circle cx="348.7" cy="802.4" r="2.10" fill="#4F7BDC"/>
<circle cx="352.1" cy="802.4" r="2.10" fill="#8A4ADC"/>
<circle cx="356.1" cy="802.4" r="2.10" fill="#E2EE58"/>
<circle cx="360.9" cy="802.4" r="2.10" fill="#8A4ADC"/>
<circle cx="364.4" cy="802.4" r="2.10" fill="#E2EE58"/>
<circle cx="370.3" cy="802.4" r="2.10" fill="#D03C5A"/>
<circle cx="374.7" cy="802.4" r="2.10" fill="#76D25A"/>
<circle cx="379.5" cy="802.4" r="2.10" fill="#E2EE58"/>
<circle cx="383.8" cy="802.4" r="2.10" fill="#4F7BDC"/>
<circle cx="387.0" cy="802.4" r="2.10" fill="#E2EE58"/>
<circle cx="390.7" cy="802.4" r="2.10" fill="#4F7BDC"/>
<circle cx="396.2" cy="802.4" r="2.10" fill="#4F7BDC"/>
<circle cx="454.5" cy="802.4" r="2.10" fill="#D03C5A"/>
<circle cx="470.5" cy="802.4" r="2.10" fill="#D03C5A"/>
<circle cx="115.4" cy="864.8" r="2.10" fill="#E2EE58"/>
<circle cx="119.6" cy="864.8" r="2.10" fill="#4F7BDC"/>
<circle cx="123.1" cy="864.8" r="2.10" fill="#E2EE58"/>
<circle cx="126.9" cy="864.8" r="2.10" fill="#E2EE58"/>
<circle cx="133.0" cy="864.8" r="2.10" fill="#E2EE58"/>
<circle cx="135.9" cy="864.8" r="2.10" fill="#4F7BDC"/>
<circle cx="139.1" cy="864.8" r="2.10" fill="#E2EE58"/>
<circle cx="145.1" cy="864.8" r="2.10" fill="#4F7BDC"/>
<circle cx="149.2" cy="864.8" r="2.10" fill="#E2EE58"/>
<circle cx="153.0" cy="864.8" r="2.10" fill="#E2EE58"/>
<circle cx="155.7" cy="864.8" r="2.10" fill="#4F7BDC"/>
<circle cx="161.0" cy="864.8" r="2.10" fill="#E2EE58"/>
<circle cx="160.8" cy="864.8" r="2.10" fill="#8A4ADC"/>
<circle cx="163.3" cy="864.8" r="2.10" fill="#4F7BDC"/>
<circle cx="168.1" cy="864.8" r="2.10" fill="#4F7BDC"/>
<circle cx="172.0" cy="864.8" r="2.10" fill="#4F7BDC"/>
<circle cx="176.4" cy="864.8" r="2.10" fill="#4F7BDC"/>
<circle cx="180.1" cy="864.8" r="2.10" fill="#D03C5A"/>
<circle cx="184.7" cy="864.8" r="2.10" fill="#4F7BDC"/>
<circle cx="188.3" cy="864.8" r="2.10" fill="#4F7BDC"/>
<circle cx="192.2" cy="864.8" r="2.10" fill="#4F7BDC"/>
<circle cx="197.3" cy="864.8" r="2.10" fill="#4F7BDC"/>
<circle cx="201.9" cy="864.8" r="2.10" fill="#4F7BDC"/>
<circle cx="205.7" cy="864.8" r="2.10" fill="#4F7BDC"/>
<circle cx="210.6" cy="864.8" r="2.10" fill="#E2EE58"/>
<circle cx="214.4" cy="864.8" r="2.10" fill="#4F7BDC"/>
<circle cx="217.2" cy="864.8" r="2.10" fill="#4F7BDC"/>
<circle cx="222.2" cy="864.8" r="2.10" fill="#4F7BDC"/>
<circle cx="225.0" cy="864.8" r="2.10" fill="#4F7BDC"/>
<circle cx="230.1" cy="864.8" r="2.10" fill="#4F7BDC"/>
<circle cx="234.5" cy="864.8" r="2.10" fill="#D03C5A"/>
<circle cx="238.2" cy="864.8" r="2.10" fill="#E2EE58"/>
<circle cx="241.7" cy="864.8" r="2.10" fill="#4F7BDC"/>
<circle cx="247.9" cy="864.8" r="2.10" fill="#E2EE58"/>
<circle cx="250.1" cy="864.8" r="2.10" fill="#8A4ADC"/>
<circle cx="254.5" cy="864.8" r="2.10" fill="#D03C5A"/>
<circle cx="258.1" cy="864.8" r="2.10" fill="#D03C5A"/>
<circle cx="263.6" cy="864.8" r="2.10" fill="#4F7BDC"/>
<circle cx="267.2" cy="864.8" r="2.10" fill="#E2EE58"/>
<circle cx="272.8" cy="864.8" r="2.10" fill="#4F7BDC"/>
<circle cx="274.9" cy="864.8" r="2.10" fill="#4F7BDC"/>
<circle cx="280.7" cy="864.8" r="2.10" fill="#D03C5A"/>
<circle cx="284.8" cy="864.8" r="2.10" fill="#4F7BDC"/>
<circle cx="288.4" cy="864.8" r="2.10" fill="#4F7BDC"/>
<circle cx="291.8" cy="864.8" r="2.10" fill="#4F7BDC"/>
<circle cx="297.6" cy="864.8" r="2.10" fill="#E2EE58"/>
<circle cx="300.5" cy="864.8" r="2.10" fill="#4F7BDC"/>
<circle cx="304.8" cy="864.8" r="2.10" fill="#4F7BDC"/>
<circle cx="308.0" cy="864.8" r="2.10" fill="#4F7BDC"/>
<circle cx="314.2" cy="864.8" r="2.10" fill="#4F7BDC"/>
<circle cx="317.4" cy="864.8" r="2.10" fill="#4F7BDC"/>
<circle cx="320.3" cy="864.8" r="2.10" fill="#8A4ADC"/>
<circle cx="325.6" cy="864.8" r="2.10" fill="#4F7BDC"/>
<circle cx="328.4" cy="864.8" r="2.10" fill="#4F7BDC"/>
<circle cx="333.1" cy="864.8" r="2.10" fill="#E2EE58"/>
<circle cx="337.9" cy="864.8" r="2.10" fill="#E2EE58"/>
<circle cx="341.0" cy="864.8" r="2.10" fill="#4F7BDC"/>
<circle cx="346.6" cy="864.8" r="2.10" fill="#4F7BDC"/>
<circle cx="349.7" cy="864.8" r="2.10" fill="#E2EE58"/>
<circle cx="354.4" cy="864.8" r="2.10" fill="#4F7BDC"/>
<circle cx="359.2" cy="864.8" r="2.10" fill="#4F7BDC"/>
<circle cx="361.7" cy="864.8" r="2.10" fill="#4F7BDC"/>
<circle cx="367.7" cy="864.8" r="2.10" fill="#4F7BDC"/>
<circle cx="371.1" cy="864.8" r="2.10" fill="#4F7BDC"/>
<circle cx="374.2" cy="864.8" r="2.10" fill="#E2EE58"/>
<circle cx="379.8" cy="864.8" r="2.10" fill="#4F7BDC"/>
<circle cx="384.4" cy="864.8" r="2.10" fill="#4F7BDC"/>
<circle cx="388.5" cy="864.8" r="2.10" fill="#4F7BDC"/>
<circle cx="392.1" cy="864.8" r="2.10" fill="#4F7BDC"/>
<circle cx="394.6" cy="864.8" r="2.10" fill="#4F7BDC"/>
<circle cx="400.6" cy="864.8" r="2.10" fill="#D03C5A"/>
<circle cx="403.8" cy="864.8" r="2.10" fill="#D03C5A"/>
<circle cx="444.5" cy="864.8" r="2.10" fill="#D03C5A"/>
<circle cx="109.0" cy="927.2" r="2.10" fill="#E2EE58"/>
<circle cx="113.9" cy="927.2" r="2.10" fill="#E2EE58"/>
<circle cx="117.5" cy="927.2" r="2.10" fill="#E2EE58"/>
<circle cx="118.8" cy="927.2" r="2.10" fill="#4F7BDC"/>
<circle cx="120.5" cy="927.2" r="2.10" fill="#76D25A"/>
<circle cx="124.3" cy="927.2" r="2.10" fill="#4F7BDC"/>
<circle cx="126.8" cy="927.2" r="2.10" fill="#4F7BDC"/>
<circle cx="129.2" cy="927.2" r="2.10" fill="#76D25A"/>
<circle cx="132.5" cy="927.2" r="2.10" fill="#4F7BDC"/>
<circle cx="135.5" cy="927.2" r="2.10" fill="#76D25A"/>
<circle cx="139.8" cy="927.2" r="2.10" fill="#4F7BDC"/>
<circle cx="142.2" cy="927.2" r="2.10" fill="#4F7BDC"/>
<circle cx="144.2" cy="927.2" r="2.10" fill="#4F7BDC"/>
<circle cx="148.8" cy="927.2" r="2.10" fill="#4F7BDC"/>
<circle cx="151.2" cy="927.2" r="2.10" fill="#4F7BDC"/>
<circle cx="154.2" cy="927.2" r="2.10" fill="#4F7BDC"/>
<circle cx="156.3" cy="927.2" r="2.10" fill="#4F7BDC"/>
<circle cx="159.9" cy="927.2" r="2.10" fill="#4F7BDC"/>
<circle cx="162.6" cy="927.2" r="2.10" fill="#4F7BDC"/>
<circle cx="165.7" cy="927.2" r="2.10" fill="#4F7BDC"/>
<circle cx="168.3" cy="927.2" r="2.10" fill="#4F7BDC"/>
<circle cx="171.3" cy="927.2" r="2.10" fill="#4F7BDC"/>
<circle cx="174.9" cy="927.2" r="2.10" fill="#4F7BDC"/>
<circle cx="178.7" cy="927.2" r="2.10" fill="#76D25A"/>
<circle cx="181.1" cy="927.2" r="2.10" fill="#4F7BDC"/>
<circle cx="183.5" cy="927.2" r="2.10" fill="#4F7BDC"/>
<circle cx="187.4" cy="927.2" r="2.10" fill="#4F7BDC"/>
<circle cx="190.6" cy="927.2" r="2.10" fill="#4F7BDC"/>
<circle cx="193.3" cy="927.2" r="2.10" fill="#4F7BDC"/>
<circle cx="196.1" cy="927.2" r="2.10" fill="#4F7BDC"/>
<circle cx="198.9" cy="927.2" r="2.10" fill="#4F7BDC"/>
<circle cx="202.2" cy="927.2" r="2.10" fill="#4F7BDC"/>
<circle cx="205.6" cy="927.2" r="2.10" fill="#4F7BDC"/>
<circle cx="207.5" cy="927.2" r="2.10" fill="#4F7BDC"/>
<circle cx="210.4" cy="927.2" r="2.10" fill="#76D25A"/>
<circle cx="214.8" cy="927.2" r="2.10" fill="#76D25A"/>
<circle cx="216.1" cy="927.2" r="2.10" fill="#4F7BDC"/>
<circle cx="219.4" cy="927.2" r="2.10" fill="#4F7BDC"/>
<circle cx="222.7" cy="927.2" r="2.10" fill="#4F7BDC"/>
<circle cx="226.0" cy="927.2" r="2.10" fill="#4F7BDC"/>
<circle cx="229.7" cy="927.2" r="2.10" fill="#4F7BDC"/>
<circle cx="231.6" cy="927.2" r="2.10" fill="#4F7BDC"/>
<circle cx="234.4" cy="927.2" r="2.10" fill="#4F7BDC"/>
<circle cx="235.3" cy="927.2" r="2.10" fill="#4F7BDC"/>
<circle cx="239.3" cy="927.2" r="2.10" fill="#4F7BDC"/>
<circle cx="244.0" cy="927.2" r="2.10" fill="#8A4ADC"/>
<circle cx="248.0" cy="927.2" r="2.10" fill="#4F7BDC"/>
<circle cx="253.0" cy="927.2" r="2.10" fill="#D03C5A"/>
<circle cx="257.1" cy="927.2" r="2.10" fill="#4F7BDC"/>
<circle cx="260.9" cy="927.2" r="2.10" fill="#D03C5A"/>
<circle cx="266.6" cy="927.2" r="2.10" fill="#4F7BDC"/>
<circle cx="271.7" cy="927.2" r="2.10" fill="#4F7BDC"/>
<circle cx="274.2" cy="927.2" r="2.10" fill="#8A4ADC"/>
<circle cx="279.1" cy="927.2" r="2.10" fill="#D03C5A"/>
<circle cx="284.0" cy="927.2" r="2.10" fill="#4F7BDC"/>
<circle cx="287.4" cy="927.2" r="2.10" fill="#4F7BDC"/>
<circle cx="293.4" cy="927.2" r="2.10" fill="#8A4ADC"/>
<circle cx="297.4" cy="927.2" r="2.10" fill="#4F7BDC"/>
<circle cx="301.2" cy="927.2" r="2.10" fill="#4F7BDC"/>
<circle cx="307.6" cy="927.2" r="2.10" fill="#4F7BDC"/>
<circle cx="310.0" cy="927.2" r="2.10" fill="#8A4ADC"/>
<circle cx="316.0" cy="927.2" r="2.10" fill="#4F7BDC"/>
<circle cx="320.6" cy="927.2" r="2.10" fill="#4F7BDC"/>
<circle cx="318.8" cy="927.2" r="2.10" fill="#D03C5A"/>
<circle cx="334.1" cy="927.2" r="2.10" fill="#D03C5A"/>
<circle cx="348.5" cy="927.2" r="2.10" fill="#D03C5A"/>
<circle cx="363.4" cy="927.2" r="2.10" fill="#D03C5A"/>
<polygon points="121.0,920.3 136.9,912.1 152.9,903.9 168.8,895.6 184.7,887.3 200.6,878.8 216.6,870.2 232.5,861.3 248.4,852.1 264.4,842.5 280.3,832.5 296.2,822.1 312.1,811.4 328.1,800.6 344.0,789.7 359.9,778.7 375.9,767.7 391.8,756.6 407.7,745.5 423.7,734.3 439.6,723.1 455.5,712.0 471.4,700.8 487.4,689.6 503.3,678.4 503.3,729.4 487.4,737.5 471.4,745.6 455.5,753.7 439.6,761.8 423.7,769.9 407.7,778.0 391.8,786.2 375.9,794.4 359.9,802.6 344.0,810.9 328.1,819.3 312.1,827.8 296.2,836.4 280.3,845.3 264.4,854.6 248.4,864.2 232.5,874.3 216.6,884.7 200.6,895.4 184.7,906.2 168.8,917.1 152.9,928.1 136.9,939.2 121.0,950.3" fill="#999999" fill-opacity="0.4"/>
<line x1="121.0" y1="935.3" x2="503.3" y2="703.9" stroke="#E84457" stroke-width="6.4"/>
<polygon points="120.1,901.9 134.7,892.5 149.2,883.1 163.8,873.5 178.3,863.7 192.9,853.5 207.5,842.8 222.0,831.4 236.6,819.3 251.2,806.9 265.7,794.2 280.3,781.3 294.9,768.3 309.4,755.3 324.0,742.2 338.5,729.0 353.1,715.9 367.7,702.7 382.2,689.6 396.8,676.4 411.4,663.2 425.9,650.0 440.5,636.8 455.0,623.6 469.6,610.4 469.6,684.4 455.0,693.6 440.5,702.7 425.9,711.9 411.4,721.1 396.8,730.3 382.2,739.5 367.7,748.7 353.1,757.9 338.5,767.1 324.0,776.4 309.4,785.7 294.9,795.0 280.3,804.4 265.7,813.9 251.2,823.5 236.6,833.5 222.0,843.8 207.5,854.8 192.9,866.4 178.3,878.6 163.8,891.2 149.2,904.0 134.7,916.9 120.1,929.9" fill="#999999" fill-opacity="0.4"/>
<line x1="120.1" y1="915.9" x2="469.6" y2="647.4" stroke="#9852EE" stroke-width="6.4"/>
<polygon points="110.0,898.7 122.9,886.1 135.8,873.3 148.6,860.4 161.5,847.2 174.4,833.7 187.3,819.9 200.2,805.7 213.0,791.2 225.9,776.4 238.8,761.3 251.7,746.1 264.6,730.8 277.4,715.4 290.3,699.9 303.2,684.4 316.1,668.8 328.9,653.2 341.8,637.5 354.7,621.9 367.6,606.2 380.5,590.5 393.3,574.8 406.2,559.1 419.1,543.4 419.1,611.4 406.2,623.6 393.3,635.9 380.5,648.1 367.6,660.4 354.7,672.6 341.8,684.9 328.9,697.2 316.1,709.5 303.2,721.9 290.3,734.3 277.4,746.8 264.6,759.3 251.7,771.9 238.8,784.6 225.9,797.6 213.0,810.7 200.2,824.1 187.3,837.9 174.4,852.0 161.5,866.5 148.6,881.2 135.8,896.2 122.9,911.4 110.0,926.7" fill="#999999" fill-opacity="0.4"/>
<line x1="110.0" y1="912.7" x2="419.1" y2="577.4" stroke="#EEF763" stroke-width="6.4"/>
<polygon points="120.1,922.0 132.9,913.2 145.8,904.3 158.6,895.4 171.5,886.4 184.3,877.2 197.2,867.8 210.0,858.1 222.8,847.9 235.7,837.4 248.5,826.4 261.4,815.2 274.2,803.8 287.0,792.3 299.9,780.6 312.7,769.0 325.6,757.2 338.4,745.5 351.2,733.7 364.1,721.9 376.9,710.1 389.8,698.3 402.6,686.5 415.5,674.6 428.3,662.8 428.3,716.8 415.5,725.5 402.6,734.2 389.8,742.9 376.9,751.6 364.1,760.3 351.2,769.0 338.4,777.7 325.6,786.5 312.7,795.3 299.9,804.1 287.0,813.0 274.2,822.0 261.4,831.1 248.5,840.4 235.7,850.0 222.8,859.9 210.0,870.3 197.2,881.1 184.3,892.2 171.5,903.6 158.6,915.0 145.8,926.6 132.9,938.3 120.1,950.0" fill="#999999" fill-opacity="0.4"/>
<line x1="120.1" y1="936.0" x2="428.3" y2="689.8" stroke="#5B87F5" stroke-width="6.4"/>
<polygon points="157.7,936.3 171.8,921.2 185.9,906.1 200.0,890.9 214.1,875.8 228.2,860.6 242.3,845.4 256.5,830.1 270.6,814.7 284.7,799.1 298.8,783.1 312.9,766.7 327.0,749.5 341.1,731.7 355.2,713.4 369.3,695.0 383.4,676.4 397.5,657.7 411.6,639.0 425.8,620.2 439.9,601.4 454.0,582.6 468.1,563.8 482.2,544.9 496.3,526.1 496.3,576.1 482.2,591.2 468.1,606.3 454.0,621.4 439.9,636.5 425.8,651.7 411.6,666.8 397.5,682.0 383.4,697.3 369.3,712.6 355.2,728.1 341.1,743.8 327.0,759.9 312.9,776.7 298.8,794.1 284.7,812.1 270.6,830.5 256.5,849.0 242.3,867.6 228.2,886.3 214.1,905.1 200.0,923.9 185.9,942.7 171.8,961.5 157.7,980.3" fill="#999999" fill-opacity="0.4"/>
<line x1="157.7" y1="958.3" x2="496.3" y2="551.1" stroke="#8BEC60" stroke-width="6.4"/>
</g>
<clipPath id="clipD"><rect x="697.6" y="534.3" width="477.2" height="411.2"/></clipPath>
<g clip-path="url(#clipD)">
<circle cx="737.0" cy="552.9" r="2.10" fill="#E2EE58"/>
<circle cx="748.0" cy="552.9" r="2.10" fill="#E2EE58"/>
<circle cx="750.7" cy="552.9" r="2.10" fill="#E2EE58"/>
<circle cx="755.5" cy="552.9" r="2.10" fill="#D03C5A"/>
<circle cx="767.5" cy="552.9" r="2.10" fill="#E2EE58"/>
<circle cx="775.4" cy="552.9" r="2.10" fill="#E2EE58"/>
<circle cx="820.7" cy="552.9" r="2.10" fill="#8A4ADC"/>
<circle cx="855.0" cy="552.9" r="2.10" fill="#4F7BDC"/>
<circle cx="873.1" cy="552.9" r="2.10" fill="#E2EE58"/>
<circle cx="880.0" cy="552.9" r="2.10" fill="#4F7BDC"/>
<circle cx="891.3" cy="552.9" r="2.10" fill="#E2EE58"/>
<circle cx="912.5" cy="552.9" r="2.10" fill="#8A4ADC"/>
<circle cx="839.5" cy="645.3" r="2.10" fill="#8A4ADC"/>
<circle cx="945.5" cy="645.3" r="2.10" fill="#D03C5A"/>
<circle cx="740.5" cy="691.6" r="2.10" fill="#8A4ADC"/>
<circle cx="746.3" cy="691.6" r="2.10" fill="#8A4ADC"/>
<circle cx="754.9" cy="691.6" r="2.10" fill="#E2EE58"/>
<circle cx="758.3" cy="691.6" r="2.10" fill="#E2EE58"/>
<circle cx="761.7" cy="691.6" r="2.10" fill="#E2EE58"/>
<circle cx="765.1" cy="691.6" r="2.10" fill="#8A4ADC"/>
<circle cx="768.6" cy="691.6" r="2.10" fill="#E2EE58"/>
<circle cx="777.1" cy="691.6" r="2.10" fill="#4F7BDC"/>
<circle cx="790.8" cy="691.6" r="2.10" fill="#E2EE58"/>
<circle cx="799.4" cy="691.6" r="2.10" fill="#8A4ADC"/>
<circle cx="806.3" cy="691.6" r="2.10" fill="#8A4ADC"/>
<circle cx="809.0" cy="691.6" r="2.10" fill="#4F7BDC"/>
<circle cx="823.4" cy="691.6" r="2.10" fill="#E2EE58"/>
<circle cx="827.5" cy="691.6" r="2.10" fill="#4F7BDC"/>
<circle cx="832.0" cy="691.6" r="2.10" fill="#4F7BDC"/>
<circle cx="835.4" cy="691.6" r="2.10" fill="#E2EE58"/>
<circle cx="842.3" cy="691.6" r="2.10" fill="#E2EE58"/>
<circle cx="856.0" cy="691.6" r="2.10" fill="#4F7BDC"/>
<circle cx="863.9" cy="691.6" r="2.10" fill="#E2EE58"/>
<circle cx="880.0" cy="691.6" r="2.10" fill="#D03C5A"/>
<circle cx="909.1" cy="691.6" r="2.10" fill="#E2EE58"/>
<circle cx="911.9" cy="691.6" r="2.10" fill="#8A4ADC"/>
<circle cx="926.9" cy="691.6" r="2.10" fill="#D03C5A"/>
<circle cx="957.8" cy="691.6" r="2.10" fill="#8A4ADC"/>
<circle cx="1000.7" cy="691.6" r="2.10" fill="#E2EE58"/>
<circle cx="1008.5" cy="691.6" r="2.10" fill="#E2EE58"/>
<circle cx="1017.1" cy="691.6" r="2.10" fill="#4F7BDC"/>
<circle cx="1024.6" cy="691.6" r="2.10" fill="#D03C5A"/>
<circle cx="1057.2" cy="691.6" r="2.10" fill="#D03C5A"/>
<circle cx="836.4" cy="711.3" r="2.10" fill="#E2EE58"/>
<circle cx="791.5" cy="719.3" r="2.10" fill="#4F7BDC"/>
<circle cx="880.0" cy="719.3" r="2.10" fill="#8A4ADC"/>
<circle cx="740.5" cy="737.9" r="2.10" fill="#E2EE58"/>
<circle cx="746.3" cy="737.9" r="2.10" fill="#8A4ADC"/>
<circle cx="751.4" cy="737.9" r="2.10" fill="#E2EE58"/>
<circle cx="754.9" cy="737.9" r="2.10" fill="#E2EE58"/>
<circle cx="758.3" cy="737.9" r="2.10" fill="#E2EE58"/>
<circle cx="761.7" cy="737.9" r="2.10" fill="#E2EE58"/>
<circle cx="765.1" cy="737.9" r="2.10" fill="#4F7BDC"/>
<circle cx="768.6" cy="737.9" r="2.10" fill="#E2EE58"/>
<circle cx="775.4" cy="737.9" r="2.10" fill="#4F7BDC"/>
<circle cx="782.3" cy="737.9" r="2.10" fill="#8A4ADC"/>
<circle cx="790.8" cy="737.9" r="2.10" fill="#E2EE58"/>
<circle cx="799.4" cy="737.9" r="2.10" fill="#4F7BDC"/>
<circle cx="815.9" cy="737.9" r="2.10" fill="#D03C5A"/>
<circle cx="823.4" cy="737.9" r="2.10" fill="#E2EE58"/>
<circle cx="828.6" cy="737.9" r="2.10" fill="#E2EE58"/>
<circle cx="837.1" cy="737.9" r="2.10" fill="#8A4ADC"/>
<circle cx="842.3" cy="737.9" r="2.10" fill="#E2EE58"/>
<circle cx="846.7" cy="737.9" r="2.10" fill="#8A4ADC"/>
<circle cx="850.8" cy="737.9" r="2.10" fill="#E2EE58"/>
<circle cx="857.0" cy="737.9" r="2.10" fill="#8A4ADC"/>
<circle cx="863.9" cy="737.9" r="2.10" fill="#E2EE58"/>
<circle cx="871.4" cy="737.9" r="2.10" fill="#4F7BDC"/>
<circle cx="878.3" cy="737.9" r="2.10" fill="#D03C5A"/>
<circle cx="887.9" cy="737.9" r="2.10" fill="#E2EE58"/>
<circle cx="892.0" cy="737.9" r="2.10" fill="#4F7BDC"/>
<circle cx="896.1" cy="737.9" r="2.10" fill="#D03C5A"/>
<circle cx="904.7" cy="737.9" r="2.10" fill="#4F7BDC"/>
<circle cx="912.5" cy="737.9" r="2.10" fill="#8A4ADC"/>
<circle cx="916.7" cy="737.9" r="2.10" fill="#8A4ADC"/>
<circle cx="921.1" cy="737.9" r="2.10" fill="#4F7BDC"/>
<circle cx="926.9" cy="737.9" r="2.10" fill="#E2EE58"/>
<circle cx="936.5" cy="737.9" r="2.10" fill="#E2EE58"/>
<circle cx="950.3" cy="737.9" r="2.10" fill="#4F7BDC"/>
<circle cx="953.0" cy="737.9" r="2.10" fill="#4F7BDC"/>
<circle cx="960.5" cy="737.9" r="2.10" fill="#8A4ADC"/>
<circle cx="969.1" cy="737.9" r="2.10" fill="#8A4ADC"/>
<circle cx="979.4" cy="737.9" r="2.10" fill="#4F7BDC"/>
<circle cx="987.3" cy="737.9" r="2.10" fill="#4F7BDC"/>
<circle cx="1017.1" cy="737.9" r="2.10" fill="#D03C5A"/>
<circle cx="1065.1" cy="737.9" r="2.10" fill="#8A4ADC"/>
<circle cx="791.5" cy="747.1" r="2.10" fill="#E2EE58"/>
<circle cx="827.5" cy="747.1" r="2.10" fill="#4F7BDC"/>
<circle cx="839.9" cy="747.1" r="2.10" fill="#E2EE58"/>
<circle cx="857.0" cy="747.1" r="2.10" fill="#8A4ADC"/>
<circle cx="899.9" cy="747.1" r="2.10" fill="#D03C5A"/>
<circle cx="909.1" cy="747.1" r="2.10" fill="#D03C5A"/>
<circle cx="748.0" cy="760.9" r="2.10" fill="#E2EE58"/>
<circle cx="767.5" cy="760.9" r="2.10" fill="#E2EE58"/>
<circle cx="777.1" cy="760.9" r="2.10" fill="#8A4ADC"/>
<circle cx="791.9" cy="760.9" r="2.10" fill="#D03C5A"/>
<circle cx="799.4" cy="760.9" r="2.10" fill="#E2EE58"/>
<circle cx="808.0" cy="760.9" r="2.10" fill="#4F7BDC"/>
<circle cx="813.1" cy="760.9" r="2.10" fill="#4F7BDC"/>
<circle cx="816.6" cy="760.9" r="2.10" fill="#D03C5A"/>
<circle cx="820.0" cy="760.9" r="2.10" fill="#8A4ADC"/>
<circle cx="823.4" cy="760.9" r="2.10" fill="#4F7BDC"/>
<circle cx="826.8" cy="760.9" r="2.10" fill="#8A4ADC"/>
<circle cx="834.7" cy="760.9" r="2.10" fill="#D03C5A"/>
<circle cx="856.0" cy="760.9" r="2.10" fill="#4F7BDC"/>
<circle cx="864.6" cy="760.9" r="2.10" fill="#4F7BDC"/>
<circle cx="878.3" cy="760.9" r="2.10" fill="#8A4ADC"/>
<circle cx="881.7" cy="760.9" r="2.10" fill="#76D25A"/>
<circle cx="887.9" cy="760.9" r="2.10" fill="#4F7BDC"/>
<circle cx="936.5" cy="760.9" r="2.10" fill="#4F7BDC"/>
<circle cx="953.0" cy="760.9" r="2.10" fill="#D03C5A"/>
<circle cx="972.5" cy="760.9" r="2.10" fill="#8A4ADC"/>
<circle cx="984.5" cy="760.9" r="2.10" fill="#8A4ADC"/>
<circle cx="994.1" cy="760.9" r="2.10" fill="#8A4ADC"/>
<circle cx="1065.1" cy="760.9" r="2.10" fill="#D03C5A"/>
<circle cx="1073.0" cy="760.9" r="2.10" fill="#D03C5A"/>
<circle cx="744.6" cy="774.8" r="2.10" fill="#E2EE58"/>
<circle cx="751.4" cy="774.8" r="2.10" fill="#E2EE58"/>
<circle cx="764.1" cy="774.8" r="2.10" fill="#8A4ADC"/>
<circle cx="773.0" cy="774.8" r="2.10" fill="#D03C5A"/>
<circle cx="783.3" cy="774.8" r="2.10" fill="#D03C5A"/>
<circle cx="791.9" cy="774.8" r="2.10" fill="#E2EE58"/>
<circle cx="809.0" cy="774.8" r="2.10" fill="#E2EE58"/>
<circle cx="818.3" cy="774.8" r="2.10" fill="#4F7BDC"/>
<circle cx="826.8" cy="774.8" r="2.10" fill="#8A4ADC"/>
<circle cx="847.4" cy="774.8" r="2.10" fill="#4F7BDC"/>
<circle cx="873.1" cy="774.8" r="2.10" fill="#76D25A"/>
<circle cx="892.0" cy="774.8" r="2.10" fill="#D03C5A"/>
<circle cx="919.4" cy="774.8" r="2.10" fill="#4F7BDC"/>
<circle cx="940.0" cy="774.8" r="2.10" fill="#8A4ADC"/>
<circle cx="970.8" cy="774.8" r="2.10" fill="#D03C5A"/>
<circle cx="1001.7" cy="774.8" r="2.10" fill="#4F7BDC"/>
<circle cx="734.3" cy="784.0" r="2.10" fill="#E2EE58"/>
<circle cx="742.9" cy="784.0" r="2.10" fill="#D03C5A"/>
<circle cx="751.4" cy="784.0" r="2.10" fill="#E2EE58"/>
<circle cx="755.5" cy="784.0" r="2.10" fill="#E2EE58"/>
<circle cx="760.0" cy="784.0" r="2.10" fill="#E2EE58"/>
<circle cx="773.7" cy="784.0" r="2.10" fill="#8A4ADC"/>
<circle cx="782.3" cy="784.0" r="2.10" fill="#D03C5A"/>
<circle cx="791.9" cy="784.0" r="2.10" fill="#E2EE58"/>
<circle cx="809.7" cy="784.0" r="2.10" fill="#4F7BDC"/>
<circle cx="822.7" cy="784.0" r="2.10" fill="#D03C5A"/>
<circle cx="828.6" cy="784.0" r="2.10" fill="#4F7BDC"/>
<circle cx="832.0" cy="784.0" r="2.10" fill="#4F7BDC"/>
<circle cx="842.3" cy="784.0" r="2.10" fill="#76D25A"/>
<circle cx="856.0" cy="784.0" r="2.10" fill="#4F7BDC"/>
<circle cx="878.3" cy="784.0" r="2.10" fill="#4F7BDC"/>
<circle cx="919.4" cy="784.0" r="2.10" fill="#4F7BDC"/>
<circle cx="953.7" cy="784.0" r="2.10" fill="#D03C5A"/>
<circle cx="1000.0" cy="784.0" r="2.10" fill="#D03C5A"/>
<circle cx="1032.5" cy="784.0" r="2.10" fill="#D03C5A"/>
<circle cx="1056.5" cy="784.0" r="2.10" fill="#D03C5A"/>
<circle cx="727.4" cy="793.4" r="2.10" fill="#E2EE58"/>
<circle cx="784.0" cy="793.4" r="2.10" fill="#4F7BDC"/>
<circle cx="791.9" cy="793.4" r="2.10" fill="#4F7BDC"/>
<circle cx="802.8" cy="793.4" r="2.10" fill="#8A4ADC"/>
<circle cx="813.1" cy="793.4" r="2.10" fill="#D03C5A"/>
<circle cx="830.3" cy="793.4" r="2.10" fill="#4F7BDC"/>
<circle cx="847.4" cy="793.4" r="2.10" fill="#8A4ADC"/>
<circle cx="861.1" cy="793.4" r="2.10" fill="#76D25A"/>
<circle cx="892.0" cy="793.4" r="2.10" fill="#4F7BDC"/>
<circle cx="905.7" cy="793.4" r="2.10" fill="#D03C5A"/>
<circle cx="933.1" cy="793.4" r="2.10" fill="#8A4ADC"/>
<circle cx="960.5" cy="793.4" r="2.10" fill="#4F7BDC"/>
<circle cx="974.3" cy="793.4" r="2.10" fill="#D03C5A"/>
<circle cx="991.4" cy="793.4" r="2.10" fill="#8A4ADC"/>
<circle cx="1015.4" cy="793.4" r="2.10" fill="#D03C5A"/>
<circle cx="730.9" cy="802.6" r="2.10" fill="#E2EE58"/>
<circle cx="751.4" cy="802.6" r="2.10" fill="#E2EE58"/>
<circle cx="772.0" cy="802.6" r="2.10" fill="#8A4ADC"/>
<circle cx="799.4" cy="802.6" r="2.10" fill="#4F7BDC"/>
<circle cx="820.0" cy="802.6" r="2.10" fill="#D03C5A"/>
<circle cx="844.0" cy="802.6" r="2.10" fill="#76D25A"/>
<circle cx="871.4" cy="802.6" r="2.10" fill="#4F7BDC"/>
<circle cx="895.4" cy="802.6" r="2.10" fill="#8A4ADC"/>
<circle cx="922.8" cy="802.6" r="2.10" fill="#D03C5A"/>
<circle cx="946.8" cy="802.6" r="2.10" fill="#4F7BDC"/>
<circle cx="981.1" cy="802.6" r="2.10" fill="#D03C5A"/>
<circle cx="1008.5" cy="802.6" r="2.10" fill="#8A4ADC"/>
<circle cx="717.8" cy="830.3" r="2.10" fill="#E2EE58"/>
<circle cx="720.7" cy="830.3" r="2.10" fill="#E2EE58"/>
<circle cx="725.4" cy="830.3" r="2.10" fill="#4F7BDC"/>
<circle cx="728.3" cy="830.3" r="2.10" fill="#4F7BDC"/>
<circle cx="730.7" cy="830.3" r="2.10" fill="#E2EE58"/>
<circle cx="734.5" cy="830.3" r="2.10" fill="#4F7BDC"/>
<circle cx="739.2" cy="830.3" r="2.10" fill="#4F7BDC"/>
<circle cx="742.6" cy="830.3" r="2.10" fill="#E2EE58"/>
<circle cx="744.0" cy="830.3" r="2.10" fill="#E2EE58"/>
<circle cx="745.1" cy="830.3" r="2.10" fill="#E2EE58"/>
<circle cx="747.6" cy="830.3" r="2.10" fill="#4F7BDC"/>
<circle cx="751.1" cy="830.3" r="2.10" fill="#4F7BDC"/>
<circle cx="754.0" cy="830.3" r="2.10" fill="#4F7BDC"/>
<circle cx="756.8" cy="830.3" r="2.10" fill="#4F7BDC"/>
<circle cx="759.2" cy="830.3" r="2.10" fill="#4F7BDC"/>
<circle cx="762.9" cy="830.3" r="2.10" fill="#4F7BDC"/>
<circle cx="766.3" cy="830.3" r="2.10" fill="#4F7BDC"/>
<circle cx="768.3" cy="830.3" r="2.10" fill="#4F7BDC"/>
<circle cx="772.0" cy="830.3" r="2.10" fill="#4F7BDC"/>
<circle cx="775.7" cy="830.3" r="2.10" fill="#4F7BDC"/>
<circle cx="778.0" cy="830.3" r="2.10" fill="#E2EE58"/>
<circle cx="781.5" cy="830.3" r="2.10" fill="#4F7BDC"/>
<circle cx="784.3" cy="830.3" r="2.10" fill="#4F7BDC"/>
<circle cx="786.4" cy="830.3" r="2.10" fill="#4F7BDC"/>
<circle cx="789.8" cy="830.3" r="2.10" fill="#4F7BDC"/>
<circle cx="793.6" cy="830.3" r="2.10" fill="#4F7BDC"/>
<circle cx="795.3" cy="830.3" r="2.10" fill="#4F7BDC"/>
<circle cx="799.3" cy="830.3" r="2.10" fill="#4F7BDC"/>
<circle cx="802.2" cy="830.3" r="2.10" fill="#4F7BDC"/>
<circle cx="805.6" cy="830.3" r="2.10" fill="#4F7BDC"/>
<circle cx="808.0" cy="830.3" r="2.10" fill="#4F7BDC"/>
<circle cx="810.8" cy="830.3" r="2.10" fill="#4F7BDC"/>
<circle cx="814.2" cy="830.3" r="2.10" fill="#4F7BDC"/>
<circle cx="816.7" cy="830.3" r="2.10" fill="#4F7BDC"/>
<circle cx="820.3" cy="830.3" r="2.10" fill="#4F7BDC"/>
<circle cx="823.5" cy="830.3" r="2.10" fill="#4F7BDC"/>
<circle cx="826.4" cy="830.3" r="2.10" fill="#4F7BDC"/>
<circle cx="829.8" cy="830.3" r="2.10" fill="#4F7BDC"/>
<circle cx="832.6" cy="830.3" r="2.10" fill="#4F7BDC"/>
<circle cx="835.3" cy="830.3" r="2.10" fill="#4F7BDC"/>
<circle cx="837.4" cy="830.3" r="2.10" fill="#4F7BDC"/>
<circle cx="841.7" cy="830.3" r="2.10" fill="#4F7BDC"/>
<circle cx="844.1" cy="830.3" r="2.10" fill="#4F7BDC"/>
<circle cx="847.2" cy="830.3" r="2.10" fill="#4F7BDC"/>
<circle cx="849.4" cy="830.3" r="2.10" fill="#4F7BDC"/>
<circle cx="852.2" cy="830.3" r="2.10" fill="#4F7BDC"/>
<circle cx="855.4" cy="830.3" r="2.10" fill="#E2EE58"/>
<circle cx="859.6" cy="830.3" r="2.10" fill="#4F7BDC"/>
<circle cx="862.6" cy="830.3" r="2.10" fill="#4F7BDC"/>
<circle cx="865.3" cy="830.3" r="2.10" fill="#4F7BDC"/>
<circle cx="867.4" cy="830.3" r="2.10" fill="#4F7BDC"/>
<circle cx="870.7" cy="830.3" r="2.10" fill="#4F7BDC"/>
<circle cx="873.2" cy="830.3" r="2.10" fill="#4F7BDC"/>
<circle cx="877.6" cy="830.3" r="2.10" fill="#4F7BDC"/>
<circle cx="879.7" cy="830.3" r="2.10" fill="#E2EE58"/>
<circle cx="880.2" cy="830.3" r="2.10" fill="#4F7BDC"/>
<circle cx="882.4" cy="830.3" r="2.10" fill="#D03C5A"/>
<circle cx="886.7" cy="830.3" r="2.10" fill="#4F7BDC"/>
<circle cx="889.7" cy="830.3" r="2.10" fill="#4F7BDC"/>
<circle cx="892.6" cy="830.3" r="2.10" fill="#76D25A"/>
<circle cx="895.5" cy="830.3" r="2.10" fill="#4F7BDC"/>
<circle cx="900.4" cy="830.3" r="2.10" fill="#4F7BDC"/>
<circle cx="902.0" cy="830.3" r="2.10" fill="#4F7BDC"/>
<circle cx="905.9" cy="830.3" r="2.10" fill="#4F7BDC"/>
<circle cx="909.1" cy="830.3" r="2.10" fill="#4F7BDC"/>
<circle cx="913.8" cy="830.3" r="2.10" fill="#E2EE58"/>
<circle cx="915.6" cy="830.3" r="2.10" fill="#D03C5A"/>
<circle cx="919.7" cy="830.3" r="2.10" fill="#4F7BDC"/>
<circle cx="922.1" cy="830.3" r="2.10" fill="#8A4ADC"/>
<circle cx="925.7" cy="830.3" r="2.10" fill="#4F7BDC"/>
<circle cx="928.3" cy="830.3" r="2.10" fill="#76D25A"/>
<circle cx="931.7" cy="830.3" r="2.10" fill="#D03C5A"/>
<circle cx="935.5" cy="830.3" r="2.10" fill="#D03C5A"/>
<circle cx="938.1" cy="830.3" r="2.10" fill="#8A4ADC"/>
<circle cx="942.2" cy="830.3" r="2.10" fill="#4F7BDC"/>
<circle cx="944.9" cy="830.3" r="2.10" fill="#8A4ADC"/>
<circle cx="949.7" cy="830.3" r="2.10" fill="#4F7BDC"/>
<circle cx="952.0" cy="830.3" r="2.10" fill="#E2EE58"/>
<circle cx="956.4" cy="830.3" r="2.10" fill="#D03C5A"/>
<circle cx="959.4" cy="830.3" r="2.10" fill="#4F7BDC"/>
<circle cx="962.2" cy="830.3" r="2.10" fill="#D03C5A"/>
<circle cx="964.7" cy="830.3" r="2.10" fill="#8A4ADC"/>
<circle cx="968.3" cy="830.3" r="2.10" fill="#D03C5A"/>
<circle cx="971.0" cy="830.3" r="2.10" fill="#4F7BDC"/>
<circle cx="974.9" cy="830.3" r="2.10" fill="#D03C5A"/>
<circle cx="978.0" cy="830.3" r="2.10" fill="#D03C5A"/>
<circle cx="980.9" cy="830.3" r="2.10" fill="#8A4ADC"/>
<circle cx="985.1" cy="830.3" r="2.10" fill="#D03C5A"/>
<circle cx="988.4" cy="830.3" r="2.10" fill="#4F7BDC"/>
<circle cx="992.3" cy="830.3" r="2.10" fill="#76D25A"/>
<circle cx="994.2" cy="830.3" r="2.10" fill="#4F7BDC"/>
<circle cx="997.6" cy="830.3" r="2.10" fill="#D03C5A"/>
<circle cx="1001.2" cy="830.3" r="2.10" fill="#4F7BDC"/>
<circle cx="1004.1" cy="830.3" r="2.10" fill="#4F7BDC"/>
<circle cx="1008.0" cy="830.3" r="2.10" fill="#76D25A"/>
<circle cx="1036.0" cy="830.3" r="2.10" fill="#8A4ADC"/>
<circle cx="1041.1" cy="830.3" r="2.10" fill="#D03C5A"/>
<circle cx="1043.8" cy="830.3" r="2.10" fill="#8A4ADC"/>
<circle cx="1046.2" cy="830.3" r="2.10" fill="#76D25A"/>
<circle cx="1054.8" cy="830.3" r="2.10" fill="#76D25A"/>
<circle cx="1065.1" cy="830.3" r="2.10" fill="#D03C5A"/>
<circle cx="1081.2" cy="830.3" r="2.10" fill="#76D25A"/>
<circle cx="1089.1" cy="830.3" r="2.10" fill="#D03C5A"/>
<circle cx="1097.0" cy="830.3" r="2.10" fill="#D03C5A"/>
<circle cx="910.1" cy="811.2" r="2.10" fill="#76D25A"/>
<circle cx="961.1" cy="814.9" r="2.10" fill="#76D25A"/>
<circle cx="931.0" cy="807.8" r="2.10" fill="#76D25A"/>
<circle cx="913.7" cy="811.1" r="2.10" fill="#76D25A"/>
<circle cx="854.6" cy="801.8" r="2.10" fill="#76D25A"/>
<circle cx="923.5" cy="816.7" r="2.10" fill="#76D25A"/>
<circle cx="932.3" cy="815.8" r="2.10" fill="#76D25A"/>
<circle cx="941.4" cy="810.8" r="2.10" fill="#76D25A"/>
<circle cx="936.6" cy="805.1" r="2.10" fill="#76D25A"/>
<circle cx="849.2" cy="808.0" r="2.10" fill="#76D25A"/>
<circle cx="932.9" cy="805.0" r="2.10" fill="#76D25A"/>
<circle cx="908.3" cy="804.5" r="2.10" fill="#76D25A"/>
<circle cx="876.2" cy="802.6" r="2.10" fill="#76D25A"/>
<circle cx="942.7" cy="815.2" r="2.10" fill="#76D25A"/>
<circle cx="903.1" cy="811.5" r="2.10" fill="#76D25A"/>
<circle cx="970.2" cy="815.9" r="2.10" fill="#76D25A"/>
<circle cx="957.5" cy="810.1" r="2.10" fill="#76D25A"/>
<circle cx="850.9" cy="804.3" r="2.10" fill="#76D25A"/>
<circle cx="856.7" cy="802.3" r="2.10" fill="#76D25A"/>
<circle cx="988.5" cy="805.5" r="2.10" fill="#76D25A"/>
<circle cx="873.1" cy="811.7" r="2.10" fill="#76D25A"/>
<circle cx="992.0" cy="814.7" r="2.10" fill="#76D25A"/>
<circle cx="927.8" cy="807.7" r="2.10" fill="#76D25A"/>
<circle cx="881.8" cy="811.4" r="2.10" fill="#76D25A"/>
<circle cx="842.3" cy="815.4" r="2.10" fill="#76D25A"/>
<circle cx="858.3" cy="807.6" r="2.10" fill="#76D25A"/>
<circle cx="841.7" cy="815.5" r="2.10" fill="#76D25A"/>
<circle cx="867.5" cy="809.9" r="2.10" fill="#76D25A"/>
<circle cx="918.9" cy="817.0" r="2.10" fill="#76D25A"/>
<circle cx="905.0" cy="814.1" r="2.10" fill="#76D25A"/>
<circle cx="905.2" cy="806.2" r="2.10" fill="#76D25A"/>
<circle cx="974.0" cy="805.3" r="2.10" fill="#76D25A"/>
<circle cx="994.7" cy="811.2" r="2.10" fill="#76D25A"/>
<circle cx="901.1" cy="805.3" r="2.10" fill="#76D25A"/>
<circle cx="929.4" cy="812.8" r="2.10" fill="#76D25A"/>
<circle cx="873.1" cy="801.6" r="2.10" fill="#76D25A"/>
<circle cx="934.6" cy="804.7" r="2.10" fill="#76D25A"/>
<circle cx="851.4" cy="811.2" r="2.10" fill="#76D25A"/>
<circle cx="938.7" cy="812.0" r="2.10" fill="#76D25A"/>
<circle cx="897.6" cy="814.1" r="2.10" fill="#76D25A"/>
<circle cx="931.0" cy="805.2" r="2.10" fill="#76D25A"/>
<circle cx="974.3" cy="807.4" r="2.10" fill="#76D25A"/>
<circle cx="888.2" cy="807.8" r="2.10" fill="#76D25A"/>
<circle cx="878.7" cy="806.5" r="2.10" fill="#76D25A"/>
<circle cx="937.5" cy="809.9" r="2.10" fill="#76D25A"/>
<circle cx="975.8" cy="858.0" r="2.10" fill="#76D25A"/>
<circle cx="911.7" cy="853.4" r="2.10" fill="#76D25A"/>
<circle cx="808.8" cy="841.4" r="2.10" fill="#76D25A"/>
<circle cx="807.2" cy="847.6" r="2.10" fill="#76D25A"/>
<circle cx="844.1" cy="842.9" r="2.10" fill="#76D25A"/>
<circle cx="872.4" cy="853.4" r="2.10" fill="#76D25A"/>
<circle cx="952.4" cy="865.0" r="2.10" fill="#76D25A"/>
<circle cx="890.8" cy="861.1" r="2.10" fill="#76D25A"/>
<circle cx="832.5" cy="842.9" r="2.10" fill="#76D25A"/>
<circle cx="980.8" cy="844.2" r="2.10" fill="#76D25A"/>
<circle cx="842.3" cy="861.1" r="2.10" fill="#76D25A"/>
<circle cx="920.9" cy="865.0" r="2.10" fill="#76D25A"/>
<circle cx="913.6" cy="847.6" r="2.10" fill="#76D25A"/>
<circle cx="839.3" cy="845.7" r="2.10" fill="#76D25A"/>
<circle cx="938.6" cy="841.4" r="2.10" fill="#76D25A"/>
<circle cx="849.8" cy="858.0" r="2.10" fill="#76D25A"/>
<circle cx="846.1" cy="839.5" r="2.10" fill="#76D25A"/>
<circle cx="832.6" cy="850.1" r="2.10" fill="#76D25A"/>
<circle cx="898.2" cy="844.2" r="2.10" fill="#76D25A"/>
<circle cx="817.1" cy="844.2" r="2.10" fill="#76D25A"/>
<circle cx="964.8" cy="850.1" r="2.10" fill="#76D25A"/>
<circle cx="921.5" cy="842.9" r="2.10" fill="#76D25A"/>
<circle cx="896.6" cy="844.2" r="2.10" fill="#76D25A"/>
<circle cx="909.1" cy="839.5" r="2.10" fill="#76D25A"/>
<circle cx="887.8" cy="850.1" r="2.10" fill="#76D25A"/>
<circle cx="929.7" cy="839.5" r="2.10" fill="#76D25A"/>
<circle cx="803.9" cy="870.0" r="2.10" fill="#76D25A"/>
<circle cx="813.8" cy="841.4" r="2.10" fill="#76D25A"/>
<circle cx="935.1" cy="850.1" r="2.10" fill="#76D25A"/>
<circle cx="825.3" cy="841.4" r="2.10" fill="#76D25A"/>
<circle cx="813.9" cy="861.1" r="2.10" fill="#76D25A"/>
<circle cx="868.0" cy="839.5" r="2.10" fill="#76D25A"/>
<circle cx="966.5" cy="842.9" r="2.10" fill="#76D25A"/>
<circle cx="936.4" cy="844.2" r="2.10" fill="#76D25A"/>
<circle cx="946.8" cy="850.1" r="2.10" fill="#76D25A"/>
<circle cx="865.1" cy="870.0" r="2.10" fill="#76D25A"/>
<circle cx="887.6" cy="841.4" r="2.10" fill="#76D25A"/>
<circle cx="961.2" cy="853.4" r="2.10" fill="#76D25A"/>
<circle cx="974.7" cy="839.5" r="2.10" fill="#76D25A"/>
<circle cx="959.7" cy="865.0" r="2.10" fill="#76D25A"/>
<circle cx="802.7" cy="870.0" r="2.10" fill="#76D25A"/>
<circle cx="870.7" cy="865.0" r="2.10" fill="#76D25A"/>
<circle cx="802.3" cy="841.4" r="2.10" fill="#76D25A"/>
<circle cx="814.8" cy="870.0" r="2.10" fill="#76D25A"/>
<circle cx="821.4" cy="847.6" r="2.10" fill="#76D25A"/>
<circle cx="962.8" cy="842.9" r="2.10" fill="#76D25A"/>
<circle cx="861.1" cy="842.9" r="2.10" fill="#76D25A"/>
<circle cx="928.4" cy="858.0" r="2.10" fill="#76D25A"/>
<circle cx="881.5" cy="861.1" r="2.10" fill="#76D25A"/>
<circle cx="815.5" cy="861.1" r="2.10" fill="#76D25A"/>
<circle cx="805.5" cy="865.0" r="2.10" fill="#76D25A"/>
<circle cx="816.2" cy="839.5" r="2.10" fill="#76D25A"/>
<circle cx="842.6" cy="842.9" r="2.10" fill="#76D25A"/>
<circle cx="820.9" cy="865.0" r="2.10" fill="#76D25A"/>
<circle cx="922.1" cy="858.0" r="2.10" fill="#76D25A"/>
<circle cx="950.0" cy="880.6" r="2.10" fill="#76D25A"/>
<circle cx="907.4" cy="899.4" r="2.10" fill="#76D25A"/>
<circle cx="764.4" cy="921.7" r="2.10" fill="#76D25A"/>
<circle cx="905.0" cy="870.0" r="2.10" fill="#76D25A"/>
<circle cx="846.0" cy="871.0" r="2.10" fill="#76D25A"/>
<circle cx="858.0" cy="876.0" r="2.10" fill="#76D25A"/>
<circle cx="912.0" cy="866.0" r="2.10" fill="#76D25A"/>
<polygon points="737.6,802.1 752.6,802.0 767.6,801.9 782.5,801.8 797.5,801.6 812.5,801.3 827.5,801.0 842.4,800.5 857.4,799.8 872.4,799.0 887.4,797.8 902.3,796.5 917.3,794.8 932.3,793.0 947.2,791.0 962.2,788.9 977.2,786.7 992.2,784.4 1007.2,782.1 1022.1,779.7 1037.1,777.4 1052.1,775.0 1067.0,772.6 1082.0,770.1 1097.0,767.7 1097.0,805.7 1082.0,805.7 1067.0,805.7 1052.1,805.8 1037.1,805.8 1022.1,805.9 1007.2,806.0 992.2,806.2 977.2,806.3 962.2,806.6 947.2,806.9 932.3,807.4 917.3,808.0 902.3,808.8 887.4,809.9 872.4,811.2 857.4,812.8 842.4,814.6 827.5,816.5 812.5,818.6 797.5,820.8 782.5,823.1 767.6,825.4 752.6,827.7 737.6,830.1" fill="#999999" fill-opacity="0.4"/>
<line x1="737.6" y1="816.1" x2="1097.0" y2="786.7" stroke="#E84457" stroke-width="6.4"/>
<polygon points="728.4,798.9 742.4,797.9 756.4,796.8 770.4,795.7 784.3,794.4 798.3,792.8 812.3,790.9 826.3,788.6 840.3,785.9 854.3,782.7 868.3,779.2 882.3,775.6 896.2,771.8 910.2,767.9 924.2,763.9 938.2,759.9 952.2,755.9 966.2,751.8 980.2,747.8 994.2,743.7 1008.1,739.6 1022.1,735.5 1036.1,731.4 1050.1,727.3 1064.1,723.2 1064.1,782.2 1050.1,783.0 1036.1,783.8 1022.1,784.7 1008.1,785.5 994.2,786.4 980.2,787.2 966.2,788.1 952.2,789.0 938.2,789.9 924.2,790.8 910.2,791.8 896.2,792.8 882.3,794.0 868.3,795.2 854.3,796.7 840.3,798.5 826.3,800.6 812.3,803.3 798.3,806.3 784.3,809.7 770.4,813.3 756.4,817.1 742.4,821.0 728.4,824.9" fill="#999999" fill-opacity="0.4"/>
<line x1="728.4" y1="811.9" x2="1064.1" y2="752.7" stroke="#9852EE" stroke-width="6.4"/>
<polygon points="720.1,780.7 732.5,780.2 744.9,779.5 757.2,778.8 769.6,777.8 782.0,776.6 794.4,775.0 806.7,772.8 819.1,770.0 831.5,766.7 843.9,763.1 856.2,759.1 868.6,755.0 881.0,750.8 893.4,746.5 905.7,742.1 918.1,737.7 930.5,733.3 942.9,728.8 955.2,724.3 967.6,719.8 980.0,715.3 992.4,710.8 1004.7,706.2 1017.1,701.7 1017.1,777.7 1004.7,778.0 992.4,778.3 980.0,778.6 967.6,778.9 955.2,779.3 942.9,779.6 930.5,780.0 918.1,780.4 905.7,780.8 893.4,781.2 881.0,781.8 868.6,782.4 856.2,783.1 843.9,784.0 831.5,785.2 819.1,786.7 806.7,788.8 794.4,791.4 782.0,794.6 769.6,798.2 757.2,802.1 744.9,806.2 732.5,810.4 720.1,814.7" fill="#999999" fill-opacity="0.4"/>
<line x1="720.1" y1="797.7" x2="1017.1" y2="739.7" stroke="#EEF763" stroke-width="6.4"/>
<polygon points="728.4,810.9 740.7,810.2 753.0,809.5 765.4,808.7 777.7,807.8 790.0,806.7 802.3,805.5 814.6,804.0 826.9,802.2 839.2,799.9 851.6,797.4 863.9,794.5 876.2,791.5 888.5,788.3 900.8,785.1 913.1,781.8 925.5,778.4 937.8,775.0 950.1,771.6 962.4,768.1 974.7,764.6 987.0,761.2 999.4,757.7 1011.7,754.2 1024.0,750.7 1024.0,800.7 1011.7,801.3 999.4,801.8 987.0,802.4 974.7,803.0 962.4,803.6 950.1,804.2 937.8,804.8 925.5,805.5 913.1,806.2 900.8,806.9 888.5,807.7 876.2,808.6 863.9,809.6 851.6,810.8 839.2,812.3 826.9,814.2 814.6,816.4 802.3,818.9 790.0,821.8 777.7,824.8 765.4,828.0 753.0,831.2 740.7,834.5 728.4,837.9" fill="#999999" fill-opacity="0.4"/>
<line x1="728.4" y1="824.4" x2="1024.0" y2="775.7" stroke="#5B87F5" stroke-width="6.4"/>
<polygon points="765.2,836.4 778.7,835.5 792.3,834.7 805.8,833.8 819.4,832.9 832.9,831.9 846.4,830.9 860.0,829.9 873.5,828.7 887.0,827.5 900.6,826.2 914.1,824.7 927.6,823.1 941.2,821.5 954.7,819.7 968.3,817.9 981.8,816.0 995.3,814.2 1008.9,812.2 1022.4,810.3 1035.9,808.3 1049.5,806.4 1063.0,804.4 1076.6,802.4 1090.1,800.4 1090.1,819.6 1076.6,820.4 1063.0,821.2 1049.5,822.1 1035.9,822.9 1022.4,823.7 1008.9,824.6 995.3,825.5 981.8,826.4 968.3,827.4 954.7,828.4 941.2,829.4 927.6,830.6 914.1,831.8 900.6,833.2 887.0,834.6 873.5,836.2 860.0,837.9 846.4,839.6 832.9,841.4 819.4,843.3 805.8,845.2 792.3,847.1 778.7,849.0 765.2,851.0" fill="#999999" fill-opacity="0.4"/>
<line x1="765.2" y1="843.7" x2="1090.1" y2="810.0" stroke="#8BEC60" stroke-width="6.4"/>
</g>
<path d="M87.5 21.1 V432.4 H584.7" fill="none" stroke="#000" stroke-width="2.2" stroke-linejoin="miter"/>
<line x1="185.9" y1="432.4" x2="185.9" y2="439.4" stroke="#333" stroke-width="2.2"/>
<text transform="translate(185.9 463.6) scale(0.97 1)" text-anchor="middle" class="tk">2</text>
<line x1="336.4" y1="432.4" x2="336.4" y2="439.4" stroke="#333" stroke-width="2.2"/>
<text transform="translate(336.4 463.6) scale(0.97 1)" text-anchor="middle" class="tk">4</text>
<line x1="486.9" y1="432.4" x2="486.9" y2="439.4" stroke="#333" stroke-width="2.2"/>
<text transform="translate(486.9 463.6) scale(0.97 1)" text-anchor="middle" class="tk">6</text>
<line x1="80.5" y1="351.3" x2="87.5" y2="351.3" stroke="#333" stroke-width="2.2"/>
<text transform="translate(73.1 359.5) scale(0.97 1)" text-anchor="end" class="tk">2</text>
<line x1="80.5" y1="226.6" x2="87.5" y2="226.6" stroke="#333" stroke-width="2.2"/>
<text transform="translate(73.1 234.8) scale(0.97 1)" text-anchor="end" class="tk">4</text>
<line x1="80.5" y1="102.0" x2="87.5" y2="102.0" stroke="#333" stroke-width="2.2"/>
<text transform="translate(73.1 110.2) scale(0.97 1)" text-anchor="end" class="tk">6</text>
<text transform="translate(45.9 328.2) rotate(-90)" class="ti">GPT-3.5</text>
<text transform="translate(45.9 195.8) rotate(-90)" class="ti">turbo</text>
<text x="232.4" y="497.8" class="tx">Human ratings</text>
<text x="20.0" y="43.9" class="lb">(A)</text>
<text x="333.0" y="401.4" class="mr">Mean <tspan font-style="italic">r</tspan> = 0.63</text>
<path d="M677.2 21.1 V432.4 H1174.6" fill="none" stroke="#000" stroke-width="2.2" stroke-linejoin="miter"/>
<line x1="775.2" y1="432.4" x2="775.2" y2="439.4" stroke="#333" stroke-width="2.2"/>
<text transform="translate(775.2 463.6) scale(0.97 1)" text-anchor="middle" class="tk">2</text>
<line x1="926.0" y1="432.4" x2="926.0" y2="439.4" stroke="#333" stroke-width="2.2"/>
<text transform="translate(926.0 463.6) scale(0.97 1)" text-anchor="middle" class="tk">4</text>
<line x1="1076.8" y1="432.4" x2="1076.8" y2="439.4" stroke="#333" stroke-width="2.2"/>
<text transform="translate(1076.8 463.6) scale(0.97 1)" text-anchor="middle" class="tk">6</text>
<line x1="670.2" y1="351.3" x2="677.2" y2="351.3" stroke="#333" stroke-width="2.2"/>
<text transform="translate(662.8 359.5) scale(0.97 1)" text-anchor="end" class="tk">2</text>
<line x1="670.2" y1="226.6" x2="677.2" y2="226.6" stroke="#333" stroke-width="2.2"/>
<text transform="translate(662.8 234.8) scale(0.97 1)" text-anchor="end" class="tk">4</text>
<line x1="670.2" y1="102.0" x2="677.2" y2="102.0" stroke="#333" stroke-width="2.2"/>
<text transform="translate(662.8 110.2) scale(0.97 1)" text-anchor="end" class="tk">6</text>
<text transform="translate(635.7 226.8) rotate(-90)" text-anchor="middle" class="ti">GPT-4</text>
<text x="826.8" y="497.8" class="tx">Human ratings</text>
<text x="598.0" y="43.9" class="lb">(B)</text>
<text x="923.0" y="401.4" class="mr">Mean <tspan font-style="italic">r</tspan> = 0.69</text>
<path d="M87.5 534.3 V945.5 H584.7" fill="none" stroke="#000" stroke-width="2.2" stroke-linejoin="miter"/>
<line x1="185.9" y1="945.5" x2="185.9" y2="952.5" stroke="#333" stroke-width="2.2"/>
<text transform="translate(185.9 976.0) scale(0.97 1)" text-anchor="middle" class="tk">2</text>
<line x1="336.4" y1="945.5" x2="336.4" y2="952.5" stroke="#333" stroke-width="2.2"/>
<text transform="translate(336.4 976.0) scale(0.97 1)" text-anchor="middle" class="tk">4</text>
<line x1="486.9" y1="945.5" x2="486.9" y2="952.5" stroke="#333" stroke-width="2.2"/>
<text transform="translate(486.9 976.0) scale(0.97 1)" text-anchor="middle" class="tk">6</text>
<line x1="80.5" y1="864.8" x2="87.5" y2="864.8" stroke="#333" stroke-width="2.2"/>
<text transform="translate(73.1 873.0) scale(0.97 1)" text-anchor="end" class="tk">2</text>
<line x1="80.5" y1="740.0" x2="87.5" y2="740.0" stroke="#333" stroke-width="2.2"/>
<text transform="translate(73.1 748.2) scale(0.97 1)" text-anchor="end" class="tk">4</text>
<line x1="80.5" y1="615.2" x2="87.5" y2="615.2" stroke="#333" stroke-width="2.2"/>
<text transform="translate(73.1 623.4) scale(0.97 1)" text-anchor="end" class="tk">6</text>
<text transform="translate(45.9 827.0) rotate(-90)" class="ti">GPT-4</text>
<text transform="translate(45.9 722.6) rotate(-90)" class="ti">turbo</text>
<text x="232.2" y="1008.8" class="tx">Human ratings</text>
<text x="20.0" y="557.9" class="lb">(C)</text>
<text x="333.0" y="914.0" class="mr">Mean <tspan font-style="italic">r</tspan> = 0.67</text>
<path d="M697.6 534.3 V945.5 H1174.8" fill="none" stroke="#000" stroke-width="2.2" stroke-linejoin="miter"/>
<line x1="791.6" y1="945.5" x2="791.6" y2="952.5" stroke="#333" stroke-width="2.2"/>
<text transform="translate(791.6 976.0) scale(1.0 1)" text-anchor="middle" class="tk">2</text>
<line x1="936.2" y1="945.5" x2="936.2" y2="952.5" stroke="#333" stroke-width="2.2"/>
<text transform="translate(936.2 976.0) scale(1.0 1)" text-anchor="middle" class="tk">4</text>
<line x1="1080.8" y1="945.5" x2="1080.8" y2="952.5" stroke="#333" stroke-width="2.2"/>
<text transform="translate(1080.8 976.0) scale(1.0 1)" text-anchor="middle" class="tk">6</text>
<line x1="690.6" y1="830.3" x2="697.6" y2="830.3" stroke="#333" stroke-width="2.2"/>
<text transform="translate(683.2 838.5) scale(1.0 1)" text-anchor="end" class="tk">0.0</text>
<line x1="690.6" y1="691.6" x2="697.6" y2="691.6" stroke="#333" stroke-width="2.2"/>
<text transform="translate(683.2 699.8) scale(1.0 1)" text-anchor="end" class="tk">0.5</text>
<line x1="690.6" y1="552.9" x2="697.6" y2="552.9" stroke="#333" stroke-width="2.2"/>
<text transform="translate(683.2 561.1) scale(1.0 1)" text-anchor="end" class="tk">1.0</text>
<text transform="translate(637.2 739.9) rotate(-90)" text-anchor="middle" class="ti d">Dictionary methods</text>
<text x="826.5" y="1008.8" class="tx">Human ratings</text>
<text x="598.4" y="557.9" class="lb">(D)</text>
<text x="925.4" y="912.6" class="mr">Mean <tspan font-style="italic">r</tspan> = 0.28</text>
<text x="165.6" y="1079.3" class="lt">Category</text>
<rect x="304.0" y="1045.2" width="47" height="46" fill="#D1D1D1"/>
<line x1="308.2" y1="1068.2" x2="346.8" y2="1068.2" stroke="#E84457" stroke-width="6.2"/>
<text x="364.5" y="1077.3" class="le">Anger</text>
<rect x="446.7" y="1045.2" width="47" height="46" fill="#D1D1D1"/>
<line x1="450.9" y1="1068.2" x2="489.5" y2="1068.2" stroke="#9852EE" stroke-width="6.2"/>
<text x="508.1" y="1077.3" class="le">Fear</text>
<rect x="574.0" y="1045.2" width="47" height="46" fill="#D1D1D1"/>
<line x1="578.2" y1="1068.2" x2="616.8" y2="1068.2" stroke="#EEF763" stroke-width="6.2"/>
<text x="634.8" y="1077.3" class="le">Joy</text>
<rect x="688.6" y="1045.2" width="47" height="46" fill="#D1D1D1"/>
<line x1="692.8" y1="1068.2" x2="731.4" y2="1068.2" stroke="#5B87F5" stroke-width="6.2"/>
<text x="750.0" y="1077.3" class="le">Sadness</text>
<rect x="861.0" y="1045.2" width="47" height="46" fill="#D1D1D1"/>
<line x1="865.2" y1="1068.2" x2="903.8" y2="1068.2" stroke="#8BEC60" stroke-width="6.2"/>
<text x="922.2" y="1077.3" class="le">Sentiment</text>
<text x="1174.2" y="1123.9" text-anchor="end" class="tcs">Trends in Cognitive Sciences</text>
</svg>
<div id="cap">
<div class="ln" style="top:1178.7px"><span class="ttl">Figure I. Large language models (LLMs) can help advance the psychology of virality.</span> Various versions of the</div>
<div class="ln" style="top:1210.5px;letter-spacing:0.84px">popular LLM GPT [including (A) GPT-3.5 Turbo, (B) GPT-4, and (C) GPT-4 Turbo] were much more accurate at</div>
<div class="ln" style="top:1241.9px;letter-spacing:0.34px">detecting manually annotated sentiment and discrete emotions (with mean correlations of 0.63&#8211;0.67) compared with</div>
<div class="ln" style="top:1273.3px;letter-spacing:0.06px">(D) dictionary-based text analysis (with a mean correlation of 0.28). GPT also worked well across languages, which can</div>
<div class="ln" style="top:1304.7px;letter-spacing:0.44px">help facilitate more cross-cultural and multilingual research. Furthermore, open-source LLMs are rapidly improving,</div>
<div class="ln last" style="top:1336.1px;letter-spacing:0.04px">which can help facilitate inexpensive, open, and reproducible research. Adapted from [<span class="ref">101</span>].</div>
</div>
</body></html>
